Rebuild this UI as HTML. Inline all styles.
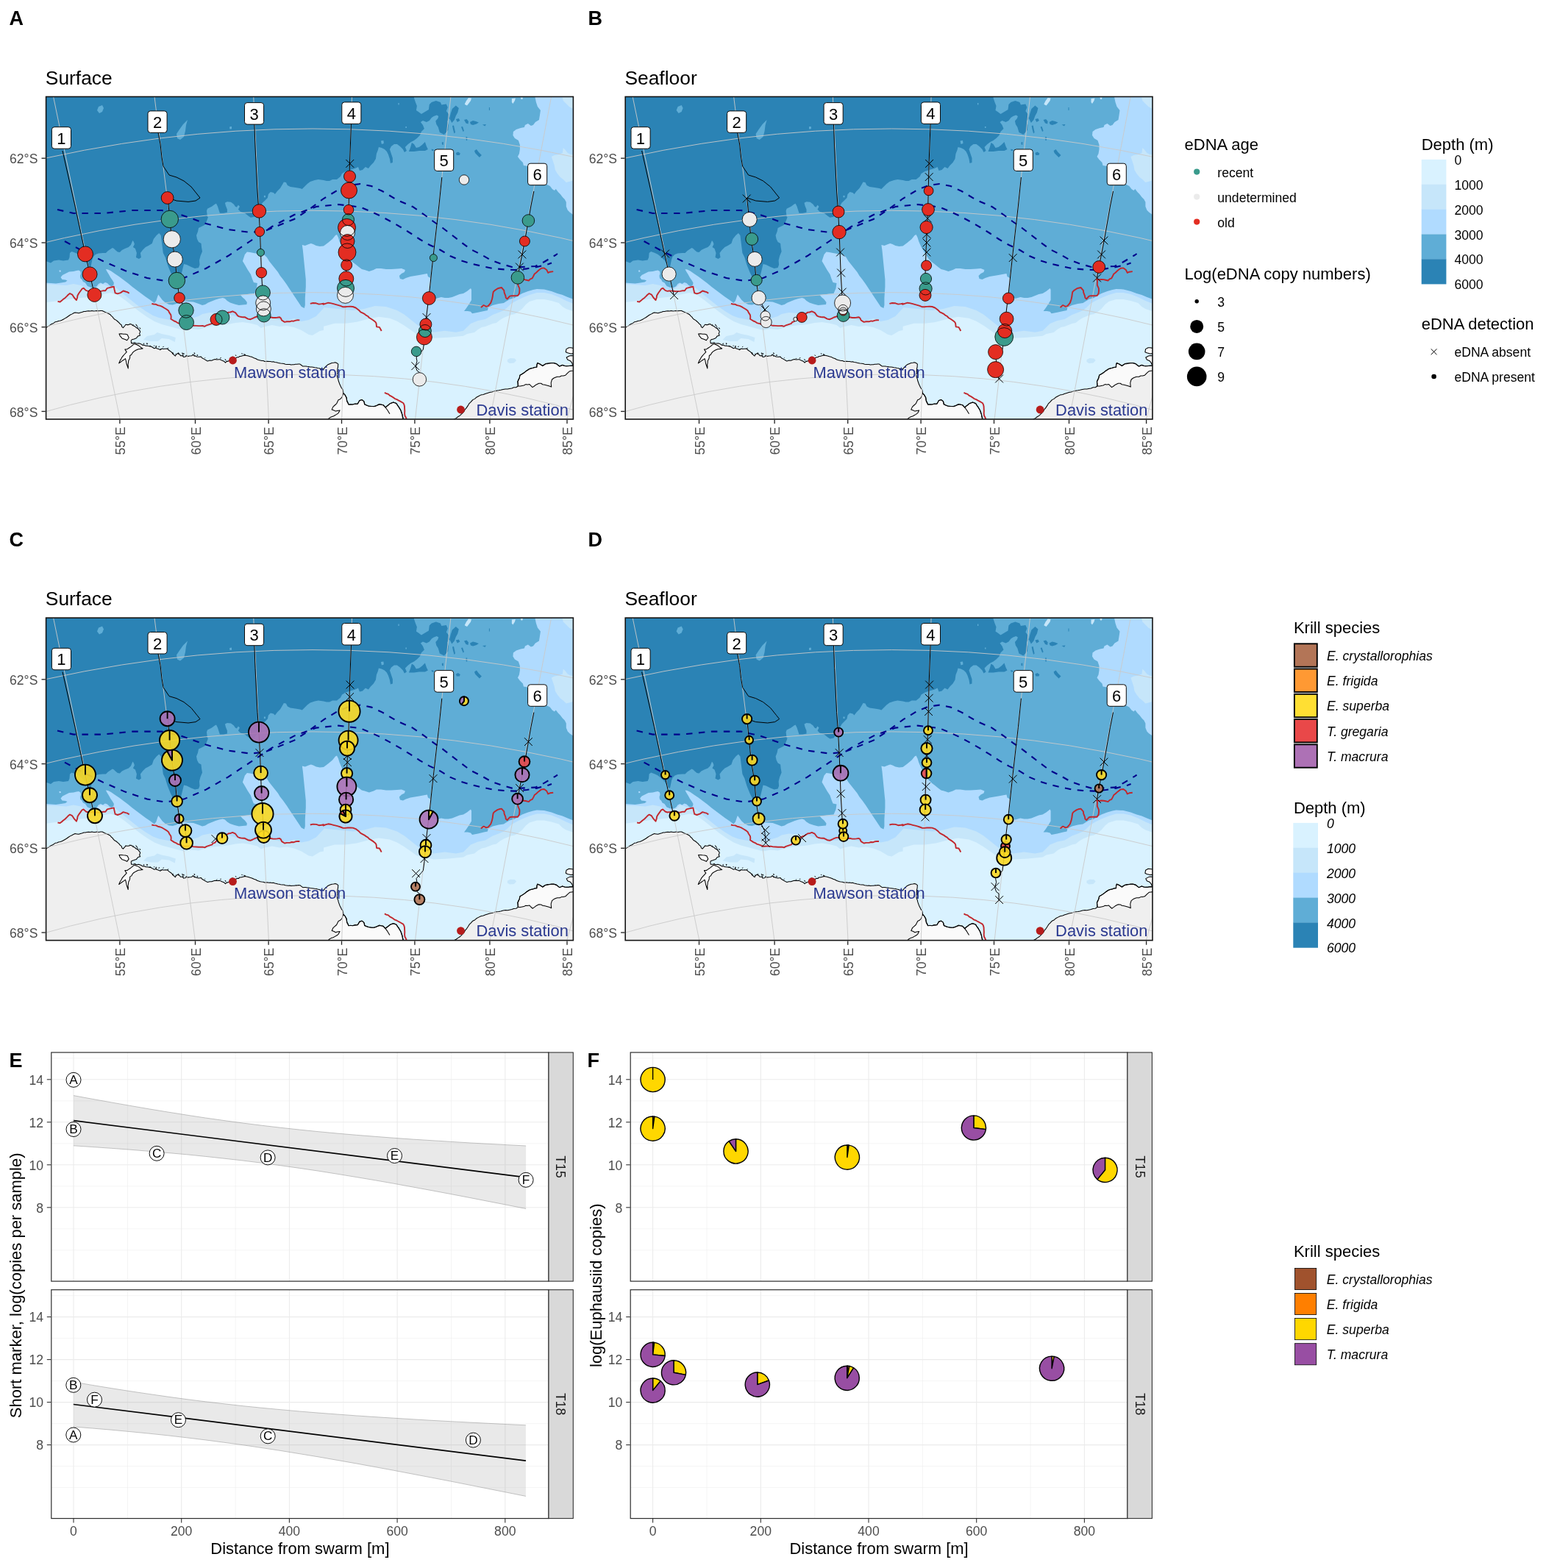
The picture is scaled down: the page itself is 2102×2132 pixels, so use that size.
<!DOCTYPE html>
<html lang="en">
<head>
<meta charset="utf-8">
<title>eDNA krill figure</title>
<style>
html,body{margin:0;padding:0;background:#ffffff;}
body{width:2102px;height:2132px;overflow:hidden;}
svg{display:block;}
text{font-family:"Liberation Sans",Arial,sans-serif;}
.ax{font-size:17.6px;fill:#4d4d4d;}
.lt{font-size:22px;fill:#000;}
.ll{font-size:17.6px;fill:#000;}
.li{font-size:17.6px;fill:#000;font-style:italic;}
.tag{font-size:27px;font-weight:bold;fill:#000;}
.ttl{font-size:26.4px;fill:#000;}
.axt{font-size:22px;fill:#000;}
.st{font-size:17.6px;fill:#1a1a1a;}
</style>
</head>
<body>
<svg width="2102" height="2132" viewBox="0 0 2102 2132">
<defs><clipPath id="mclip"><rect x="62.6" y="131.5" width="716.8" height="438.5"/></clipPath><g id="mapbg"><rect x="62.6" y="131.5" width="716.8" height="438.5" fill="#5fadd6"/><path d="M57.6,354.9 62,354.9 65,355.9 69,357.4 73,354.4 80,353.4 86,354.4 93,353.4 94.5,349.9 95,343.9 97.5,341.9 103,343.9 107,345.9 111.9,349.9 115.9,353.9 118.9,358.9 120.9,362.9 123.4,362.9 124.4,357.9 125.4,352.9 126.9,348.9 129.9,345.9 133.9,344.4 139.9,343.9 143.9,343.9 146.9,340.9 149.9,338.9 152.9,336.9 154.9,337.9 156.9,339.9 159.9,342.4 162.9,342.9 165.9,339.9 169.9,337.9 174.9,335.9 177.9,332.9 180.4,327 181.9,328.9 182.9,331.9 180.9,335.9 183.9,337.9 185.9,343.9 184.9,349.9 188.9,351.9 191.9,349.9 190.9,343.9 193.9,339.9 197.9,335.9 201.9,333.9 206.8,330.9 208.8,325 212.8,320 216.3,317 218.8,320 219.8,327.9 220.8,335.9 221.8,343.9 224.8,349.9 227.8,359.9 229.8,364.9 231.8,369.9 234.8,375.9 239.8,379.9 245.8,375.9 250,358.9 254,359.9 260,362.9 265,364.9 270,363.9 271.5,359.9 271,353.9 272.5,347.9 275,341.9 274,335.9 273.5,330.9 270,328.9 268,325 267,320 269,315 270,310 274,308 278,306 280,303 282,298 283,295 282,294.8 281,286.8 282,283.8 288,280.8 292,277.8 294,276.8 296,280.8 297.9,286.8 298.9,289.8 303.9,289.8 308.9,288.8 308.9,284.8 306.9,279.8 305.9,275.8 308.9,274.3 313.9,274.8 317.9,277.8 319.9,280.8 321.9,281.8 323.9,278.8 325.9,280.8 323.9,284.8 326.9,287.8 332.9,289.8 337.9,293.8 340.9,295.8 345.9,294.8 350.9,286.8 356.9,275.8 359.9,272.9 363.9,268.9 364.9,263.9 367.9,260.9 371.9,261.9 373.9,263.9 376.9,259.9 380.9,255.9 383.9,250.9 385.9,247.4 388.9,247.9 390.9,251.9 394.8,253.9 401.8,254.9 407.8,255.9 410.8,256.9 413.8,253.9 417.8,249.9 421.8,246.9 427.8,244.9 432.8,243.9 440,244.9 444,245.9 448,245.9 452,243.9 458,243.9 463,239.9 465,235.9 470,232.9 476,230.9 483,228.9 487,226.9 488.9,231.9 492.9,230.9 496.9,226.9 500.9,228.9 503.9,224.9 507.9,220.9 510.9,215.9 511.9,208.9 513.9,203.9 514.9,199.9 518.9,200.9 522.9,202.9 525.9,205.9 527.9,209.9 529.9,215.9 530.9,221.9 533.9,220.9 533.9,214.9 531.9,208.9 529.9,202.9 531.9,198.9 535.9,195.9 539.9,195.9 543.9,198.9 547.9,202.9 549.9,206.9 552.9,204.9 550.9,199.9 554.9,195.9 558.9,192.9 562.9,190.9 566.9,187.9 570.9,183.9 572.9,178.9 576.9,175 574.9,170 571.9,166 574.9,164 579.9,166 583.8,164 586.8,160 589.8,158 593.8,156.5 596.3,158 595.3,161 592.3,164.5 593.3,169 595.8,173 597.8,179.9 603.8,182.9 609.3,177 609.8,170 608.3,165 610.8,161 609.8,155 606.8,151 608.8,146 606.8,141.5 600.3,142.5 598.8,139 592.8,137 586.8,139 583.8,142 582.9,149 577.9,152 572.9,155 568.9,152 565.9,150 566.9,144 564.9,139 562.9,133 562.9,129 562.9,126.5 57.6,126.5Z" fill="#2b83b5"/><path d="M614.8,148 619.8,143.5 623.8,147 622.3,153 619.8,157.5 617.8,163 614.3,167 611.3,161 612.8,154Z" fill="#2b83b5"/><path d="M619.8,162 623.8,161 625.3,164 621.8,166Z" fill="#2b83b5"/><path d="M555.9,205.9 557.9,200.9 559.9,193.9 562.9,195.9 565.9,200.9 569.9,199.9 573.9,196.9 577.9,192.9 579.9,198.9 581.9,202.9 577.9,204.9 569.9,204.9 562.9,205.9Z" fill="#2b83b5"/><path d="M619.8,207.9 622.8,206.4 625.8,208.4 624.8,210.9 620.8,210.9Z" fill="#2b83b5"/><path d="M586.8,202.4 589.8,203.4 589.3,205.4 586.8,204.4Z" fill="#2b83b5"/><path d="M600.8,193.4 602.8,192.9 602.8,196.9 601,196.4Z" fill="#2b83b5"/><path d="M631,163 634.5,162 637,165 636.5,168.5 633.5,167.5Z" fill="#2b83b5"/><path d="M639,166 643,164 647,165 650.9,166.5 647.9,168.5 643,170 640,169Z" fill="#2b83b5"/><path d="M655.9,169.5 660.9,169 659.4,171.5Z" fill="#2b83b5"/><path d="M615,171 617,170.5 619,179.9 617.5,181.4 616,176Z" fill="#2b83b5"/><path d="M627,172.5 629,172 631,178 629.5,178.9Z" fill="#2b83b5"/><path d="M645,204.9 647.9,202.9 650.9,206.9 654.9,210.9 651.9,213.9 647.9,209.9 646,207.9Z" fill="#2b83b5"/><path d="M633.5,185.9 635.2,185.9 635.2,190.9 633.8,190.9Z" fill="#2b83b5"/><path d="M664.9,146 665.9,146 665.9,150 664.9,150Z" fill="#2b83b5"/><path d="M132,150 134,145 139,143 141,147 139,152 135,154Z" fill="#5fadd6"/><path d="M240,182 244,176 249,169 255,163 253,170 252,178 250,186 245,190 241,188Z" fill="#5fadd6"/><path d="M312.4,172.4 315,172.4 315,175.2 312.4,175.2Z" fill="#5fadd6"/><path d="M312.4,172.5 314.9,172 315.1,175 312.7,175.5Z" fill="#5fadd6"/><path d="M358.9,265.9 360.9,265.9 360.9,268.4 358.9,268.4Z" fill="#5fadd6"/><path d="M517.9,191.4 521.4,190.9 521.9,194.9 518.9,195.9Z" fill="#5fadd6"/><path d="M541.4,140 542.7,140 542.7,142.5 541.4,142.5Z" fill="#5fadd6"/><path d="M551.4,172 552.9,172 552.9,174 551.4,174Z" fill="#5fadd6"/><path d="M62,384.4 69,384.9 76,385.4 83,384.4 89,383.4 91.5,381.4 89,380.4 84.5,379.9 82.5,376.9 85,373.9 90,371.4 94,369.4 100,368.9 104,367.9 107,367.4 109.4,368.9 109.9,371.9 108.9,374.9 109.4,378.4 111.4,379.9 112.9,382.9 115.9,384.4 118.9,388.9 123.9,390.9 127.9,390.9 131.4,389.4 133.9,385.9 136.9,384.4 139.9,385.9 142.9,383.9 145.9,384.9 148.9,387.9 151.9,389.4 154.4,387.4 154.9,384.4 152.9,380.9 150.4,377.4 147.9,372.9 145.4,368.9 143.9,365.9 146.9,366.4 150.9,368.4 155.9,371.9 161.9,375.9 167.9,380.4 173.9,384.9 179.9,389.9 185.9,394.4 191.9,398.9 197.9,403.4 203.8,407.4 209.8,411.9 212.3,408.9 214.3,402.9 215.3,400.4 217.8,403.9 220.8,407.9 224.8,411.4 229.8,413.9 234.8,414.4 239.8,412.9 245.8,409.9 250,409.4 256,409.9 263,410.4 270,412.9 275,414.9 279,413.9 283,411.4 288,409.4 293,407.4 297.9,405.9 302.9,404.9 305.9,405.9 308.9,408.9 312.9,411.4 318.9,413.4 324.9,414.9 329.9,414.4 335.4,413.9 335.9,410.9 332.9,406.9 329.4,403.9 326.9,400.9 332.9,400.4 339.9,399.4 345.9,398.9 348.9,391.9 349.9,384.9 344.9,383.9 342.9,378.9 340.9,372.9 336.9,366.9 332.9,359.9 329.9,354.9 332.9,345.9 335.9,342.4 339.9,342.9 344.9,343.9 353.9,345.4 359.9,346.9 362.9,349.9 365.9,354.9 369.9,359.9 373.9,364.9 377.9,369.9 380.9,374.9 384.9,379.9 389.9,386.9 393.8,392.9 397.8,398.9 401.8,404.9 405.8,410.9 409.8,416.9 413.8,418.9 414.8,414.9 414.8,404.9 415.8,389.9 415.8,379.9 414.8,369.9 413.8,359.9 412.8,349.9 411.8,339.9 410.8,332.9 414.8,333.9 419.8,331.9 422.8,330.9 425.8,331.9 429.8,333.9 434.8,334.9 440,334.4 446,329.9 452,325 456,320 458,319 460,323 461.5,327.9 465,335.9 470,343.9 475,351.9 479,355.9 483,358.9 487.9,362.9 491.9,365.9 495.9,366.9 501.9,368.9 507.9,366.9 511.9,364.9 517.9,364.9 524.9,365.9 531.9,365.9 539.9,365.4 545.9,364.9 550.9,366.9 549.9,369.9 545.9,371.9 542.9,374.9 543.9,378.9 547.9,379.9 551.9,377.9 557.9,375.9 563.9,374.9 569.9,373.9 577.9,372.4 580.9,371.9 581.9,375.9 585.3,377.9 585.8,384.9 584.8,391.9 584.3,396.9 586.8,402.9 592.8,405.9 599.8,403.9 604.8,404.9 609.8,404.9 614.8,403.9 619.8,401.9 624.8,399.9 630,398.9 635,395.9 640,391.9 641,393.9 641,399.9 641,407.9 638,412.9 634,418.9 631,422.9 636,422.9 640,423.8 642,426.3 649.9,424.8 657.9,422.9 662.9,421.9 663.9,417.9 669.9,414.9 677.9,412.9 684.9,411.9 687.9,409.9 692.9,406.9 699.9,404.9 704.9,401.9 709.9,398.9 717.9,395.9 724.9,393.9 729.9,392.9 739.9,393.4 749.8,395.9 757.8,398.9 764.8,400.9 771.8,403.9 784.8,408.9 784.4,575 57.6,575Z" fill="#b0dbff"/><path d="M726.9,129 728.9,139 730.9,145 734.9,150 733.9,157 732.9,163 727.9,166 724.9,170 721.9,171 717.9,168 713.9,170 712.9,173 707.9,174 701.9,176 697.9,178.9 697.4,183.9 699.9,187.9 704.9,190.9 706.9,196.9 706.9,202.9 705.9,208.9 703.9,212.9 706.9,216.9 710.9,220.9 711.9,224.9 717.9,225.9 729.9,235.9 743.8,250.9 747.8,252.9 750.8,256.9 753.8,258.9 755.8,256.9 758.8,260.9 761.8,263.9 764.8,267.9 767.8,270.9 769.8,274.8 769.8,280.8 771.8,285.8 774.8,288.8 784.8,295.8 784.8,129Z" fill="#b0dbff"/><path d="M62,389.9 66,389.9 70,391.9 71.2,395.9 69.5,398.4 66,396.9 62,394.9Z" fill="#5fadd6"/><path d="M80.5,367.4 82.5,367.4 82.8,369.4 80.8,369.7Z" fill="#b0dbff"/><path d="M55,386 75,387 90,388 100,386 110,388 118,393 126,395 133,390 137,386 141,387 146,389 151,391 156,390 160,393 168,400 178,408 188,416 198,423 208,429 216,432 226,434 238,436 250,434.9 260,432.9 270,430 275,427 285,425 309.9,427 319.9,430 329.9,432.9 339.9,434.9 349.9,433.9 359.9,432.9 369.9,432.9 379.9,434.9 389.9,435.9 399.8,432.9 409.8,436.9 419.8,434.9 429.8,430 440,419 440,417.9 460,419.9 480,421.9 494.9,419.9 509.9,415.9 524.9,416.9 539.9,421.9 549.9,427.8 559.9,435.8 569.9,443.8 589.8,451.8 604.8,449.8 619.8,451.8 630,449.8 640,439.9 649.9,435.9 659.9,433.9 664.9,431 669.9,428 677.9,425 684.9,422 689.9,418 694.9,413 701.9,409 709.9,405 719.9,401 729.9,398 739.9,398 749.8,400 759.8,404 769.8,409 784.8,415 784.4,575 57.6,575Z" fill="#c6e6fa"/><path d="M763.8,129 765.8,137 769.8,141 773.8,145 784.8,151 784.8,129Z" fill="#c6e6fa"/><path d="M749.8,212.9 753.8,210.9 759.8,209.9 764.8,207.9 765.8,200.9 768.8,203.9 771.8,207.9 775.8,209.9 784.8,210.9 784.8,243.9 773.8,246.9 769.8,247.9 765.8,243.9 761.8,240.9 757.8,235.9 754.8,230.9 753.8,224.9 751.8,218.9Z" fill="#c6e6fa"/><path d="M632,141 634,137 637,133 641,133.5 640,137 637,141 635,143.5 632,142Z" fill="#c6e6fa"/><path d="M695.9,134 700.9,133.5 699.9,137 697.4,141 695.9,139Z" fill="#c6e6fa"/><path d="M707.9,132.5 710.9,132.5 710.4,135 708.4,134.8Z" fill="#c6e6fa"/><path d="M55,412 80,409 100,406 120,404 140,400 150,398 160,401 170,408 180,416 190,424 200,431 210,437 220,441 235,445 250,448.9 260,446.9 270,447.9 280,444.9 290,442.9 299.9,441.9 309.9,440.9 319.9,438.9 329.9,437.9 339.9,439.4 349.9,441.9 354.9,445.9 359.9,443.9 369.9,441.9 379.9,443.9 389.9,442.9 399.8,444.9 409.8,448.9 419.8,454.9 424.8,455.9 429.8,452.9 434.8,449.9 440,448.9 440,443.8 455,439.8 470,439.8 485,437.8 499.9,433.8 514.9,430.8 529.9,432.8 539.9,436.8 549.9,442.8 559.9,449.8 566.9,454.8 589.8,459.8 609.8,458.8 630,456.8 635,453.9 640,452.9 645,451.9 649.9,447.9 654.9,444.9 659.9,443.9 664.9,441.9 669.9,439.9 674.9,438.9 679.9,434.9 684.9,432 689.9,430 694.9,428 699.9,427 704.9,424 709.9,420 714.9,414 719.9,410 729.9,407 739.9,407 749.8,409 759.8,412 764.8,417 769.8,420 784.8,425 784.4,575 57.6,575Z" fill="#d9f2ff"/><path d="M194.9,461.9 199.9,456.9 209.8,454.9 213.8,451.9 219.8,453.9 229.8,455.9 238.8,458.9 237.8,464.9 229.8,460.9 219.8,459.9 214.8,463.9 204.8,463.9Z" fill="#c6e6fa"/><path d="M689.9,488.9 693.9,487.1 699.9,487.4 702.1,489.9 698.9,493.4 692.9,493.9 689.9,491.9Z" fill="#c6e6fa"/><path d="M56,449.9 57.6,448.8 59.4,447.7 61.3,446.3 62.7,445.6 64.5,444.1 66.6,443.1 68.2,441.9 69.8,440.8 71.6,440.1 73.2,439.1 75.1,437.7 77.5,437.3 79.5,436.4 82.2,435.9 84.1,435.2 86.1,434.2 87.9,433.1 90.4,431.7 93.2,429.7 95.3,428.3 98.2,426.9 100,425.8 102,424.9 104.4,425.3 107,425.7 109.5,424.9 112.1,424.2 114,423.4 116.1,423.5 118.2,423 120.4,422.7 122.8,422.9 124.8,422.5 127.5,423 129.4,422.8 131.9,422.4 134.1,422.8 136.8,422.4 139,422.5 141,423.4 143.1,424.5 144.9,425.2 147.3,426.2 150,427.7 151.2,429.4 153,430.8 154.2,432.6 155.8,434.2 158.1,435.4 159.9,437 161.7,438.6 163,440.2 165.2,442 165.8,444.3 167.4,445.6 169.7,443 171,441.3 172.7,441.6 174.5,441.6 178.1,440.6 180.6,442.6 183.2,443.7 185.7,445.9 187,446.1 189.7,449.3 190.4,449.9 190.5,451.6 189.6,453.6 190.6,456.1 188.5,456.7 187.4,457.1 185.5,459.8 183.5,460.4 182.4,460.9 179.3,461.8 178.2,463.2 178.6,466.6 181.5,466.6 183.5,465.8 184.6,467 187.6,467 188.4,466.7 191.4,467.6 194.4,469.5 195.3,469 198.4,470.2 200.4,470.1 201.2,470.5 204.9,471 206.6,471.8 209.7,473.7 212.6,472.8 212.9,473.7 216.5,474.8 217.7,475.7 220.6,473.9 222.3,474.5 224.1,474.3 225.4,474.3 227.3,474.1 230,476.5 232.4,478.1 235.5,481.2 237.1,483.1 238.5,484 238.9,482.8 241.2,480.5 244.1,481.9 245.6,483.7 248.1,483.6 249.6,485.5 252,485.1 253.7,483.7 256.1,484.5 257.4,484.1 260.7,483.8 262.6,482 264.2,484.2 265.2,483.8 267.6,484.9 270.3,485.3 273.5,485 274.7,486.7 277.3,488.1 281.3,490.5 282.2,490.9 285.1,490.1 287.7,490.2 290.6,489.1 292.4,488.6 294.8,489 298.3,488.7 299.2,488.8 301.7,490.1 304.5,491.2 306.5,493.1 307.8,491.7 309.9,491.3 311.8,490.2 313.9,488.4 316,488.2 317.2,487.1 319.8,487.2 322.7,485.7 324.6,485.8 325.5,484.5 327.2,484.5 330.5,483.6 333.1,483 335.5,483.4 337.7,483.9 340.1,484.7 343.1,485.6 345.2,486.7 348.1,487.7 349.6,488.7 351.7,489.4 354,490.1 356.1,490.4 358,490.6 360,491.4 363,491.2 366,491.6 367.6,491.5 369.9,491.9 371.7,491.7 373.7,492.4 376,492.8 377.8,493.3 379.8,493.7 381.6,494.1 384.1,494.3 386,494.5 388,495.2 389.9,495.4 391.8,495.6 394.1,495.5 395.6,496 398.1,495.7 399.8,495.7 401.7,495.3 403.7,495.3 405.7,494.9 407.9,495.1 409.7,496.5 411.8,498.1 413.9,497.9 415.7,498 417.8,498.3 419.6,498.5 421.7,498.9 423.6,499.1 425.8,499.3 427.8,499.7 430,499.9 431.8,500.5 434,500.8 435.9,501.6 437.9,501.5 439.9,502 442.1,499.1 444.2,497.2 445.8,495.8 448.3,494.7 451.2,493.6 453.4,493.3 455.9,492.8 458.1,493.7 459.8,495.1 459.6,496.8 459.5,499 459,500.8 458.9,502.9 458.7,504.9 459,506.8 458.6,508.7 458.4,511 458.8,513.4 459.7,515.3 460.2,517.8 461.1,520.3 461.9,522.6 463.1,525 464.3,527.5 466.2,529.9 466.5,532.1 467,534.8 469.1,536.9 470,538.7 471,540.9 471.3,543.5 472.1,545.6 473.2,547.6 473.9,549.9 477,549.9 480,549.8 481.9,549.3 483.7,549.3 486.1,548.9 487.6,546.8 488.8,544.8 492.1,543.6 494.9,545.7 495.6,547.8 495.9,549.8 498.5,551 500.9,552 503.2,552.2 505.7,552.6 508.6,552.4 510.8,551.7 513.4,551 516.1,550 518.5,550.1 520.9,550.7 522.4,552.4 523.8,553.7 527.1,551.6 528.6,550.5 530.1,548.8 532.4,547.9 535,547.1 537,547.7 539.1,548.8 540.4,550.9 541.6,553 543.5,555.3 544.9,557.8 545.4,559.8 546,561.8 547,563.8 547.4,566.3 548.1,568 548.5,570.5 548.6,572.5 549.2,574.6 57.6,575Z" fill="#efefef"/><path d="M614,574.8 615.6,572.5 617.2,570.1 620.1,568.6 622.6,566.8 625.6,564.9 627.9,562.5 629.9,560.6 631.3,558.9 632.3,556.6 633.8,555.1 635.5,552.6 636.8,550.6 638,548.6 640.1,546.6 642.8,543.6 645.8,542.1 647.8,540.2 651,538.5 653.7,537.1 657.1,536.4 660.2,535.2 662.8,534.4 665.7,533.5 668.8,532.9 671.6,532 674.8,531.2 678.1,530.8 680.8,530.3 684.1,529.5 687.2,529 690.1,529.1 692.6,528.6 695.8,527.9 698.6,526.8 701.7,526.7 704.2,525 704.4,522.2 703.8,518.8 705.2,516.6 706.1,514 707.1,510.1 709.6,508.7 712.6,506.8 716,504.2 719.8,501.7 722.4,500.7 724.7,500.2 727.1,499.4 730,499.2 729.9,495.8 730.7,493.4 733.8,494.7 737.9,497.6 741.8,494.8 744,494.7 746.5,493.9 750.1,493.4 753,493.7 756.9,495.1 758.6,496.3 760.6,498.1 764.7,496.4 767.7,497.4 770.2,497.8 772.3,497.8 774.8,497.2 777.2,497 779.7,497.5 782.6,497.1 784.8,496.8 784.4,575Z" fill="#efefef"/><path d="M467,534.8 468.9,536.9 471.3,540.8 471.5,543.4 471.7,545.8 474.1,550.1 476.6,549.7 479.6,550.1 483.1,549 486.3,549.2 487.6,546.9 488.7,544.4 492,543.5 494.7,545.6 495.6,549.8 498.4,551.1 501,551.9 503.4,552.5 505.9,552.6 508.8,552.7 511.2,552 513.3,550.6 515.8,549.5 518.6,550.2 521.2,550.7 524.3,554.1 526.5,551.6 530.2,548.8 532.8,547.7 534.6,546.9 539.1,548.6 540.1,550.7 542.3,553 543.1,555.1 544.6,557.5 546.1,560.6 546.9,563.8 547.3,566.7 547.8,569.4 548.5,572 549.2,574.6 547.3,575 544.3,575.1 541.8,574.7 539.9,574.9 536.8,575.2 534.5,574.6 532.4,574.7 529.6,574.5 527,574.9 524.7,574.9 522.3,574.8 520.3,574.8 517.6,575.1 514.8,574.5 512.9,575.1 510,574.6 507.9,575.2 505,575.2 503.1,574.9 500.3,574.5 497.5,575.2 495.3,575 492.8,575.1 490.6,574.6 487.9,575 485.3,574.6 483.3,575.1 480.9,574.6 478.6,574.6 475.5,574.6 473.4,574.4 470.7,574.7 468.6,574.5 465.9,575.1 464,574.9 461.3,574.9 458.4,574.4 455.9,575.1 454,575.2 451,574.9 448.9,575 446.3,575.2 443.7,574.8 445.2,572.6 446.2,570 448.2,568.1 450.2,567 453,566.1 454.9,565 457.8,563.4 460.1,561.7 462,557.9 458.6,558.4 456.4,559.1 453.7,557.7 451.2,556.9 452.9,553.1 455.2,551 457.6,548.9 459,546.1 460.1,543.8 462.6,542.7 464.8,540.4 465.8,538 466.7,534.6Z" fill="#fafafa" stroke="#000" stroke-width="1.05" stroke-linejoin="round"/><path d="M704.4,524.9 704.1,522 704,518.6 704.7,516.3 706.2,514.1 707,510 709.9,508.5 712.6,506.8 715.6,504.2 719.5,501.6 722,501 724.7,500.3 727.6,499.2 729.5,499.2 730.1,495.8 730.8,493.7 733.5,494.8 737.6,497.2 741.9,494.6 744.5,494 746.6,494.1 749.8,493.6 752.9,493.4 756.7,494.5 759,496.8 761.2,498 764.7,496.3 767.5,497.3 769.5,497.7 772.2,497.6 775.1,497.4 776.9,497.5 779.8,497.1 782.1,496.9 784.7,497.1 784.5,499.9 784.5,503 781.9,503.2 779.7,504 777,504.3 774.6,504.7 771.8,507.2 768.8,510.2 765.9,510.9 763.4,511 761,512.2 757.9,512.2 756.1,512.7 753.1,514 750.5,516 749.2,520.3 749.3,522.5 749.7,526.1 747.1,525 743.6,523.9 740.8,523.2 737.7,522.7 735.7,521.3 732.7,521.2 728.7,523.2 726.4,525 724,526.6 721.7,524.4 720,522.5 717.1,522.9 714.8,522.6 712.3,524 709.9,524.5 707.5,525 704.6,524.8Z" fill="#fafafa" stroke="#000" stroke-width="1.05" stroke-linejoin="round"/><path d="M784.8,473.4 781.9,473.4 779.5,473.4 776.3,472.8 773.5,472.7 770,474.6 769.3,478.7 771.7,479.8 776.1,481 778.4,480.7 781.5,481.2 785.1,481.1 785.1,478.6 785.2,476.1 784.6,473.7Z" fill="#fafafa" stroke="#000" stroke-width="1.05" stroke-linejoin="round"/><path d="M784.8,482.9 781.7,483.3 779.4,483.7 776.4,483.5 774,484 770.2,486 771.7,489.1 775.5,490.7 777.6,493.3 778.6,496.1 781.9,496.1 784.8,497 784.5,494.2 784.5,491.2 784.5,488.3 785.2,485.6 785.2,482.8Z" fill="#fafafa" stroke="#000" stroke-width="1.05" stroke-linejoin="round"/><path d="M161.9,453.9 165,453.8 167.6,454.2 170.5,454.3 173.2,455.1 175.2,459.3 172.7,462.8 170.7,461.7 168,460.7 166.2,460.2 163.1,456.7 162.2,453.9Z" fill="#fafafa" stroke="#000" stroke-width="1.05" stroke-linejoin="round"/><path d="M169.9,474.9 172.8,474.9 174.8,473.5 176.8,472.2 178.7,470.8 180.5,469.2 182.7,467.6 186.1,468.8 189.1,470.3 191.2,472.2 194.1,474 190.5,474.4 188,474.7 184.6,476.3 181.7,478.1 180.1,479.8 178.7,482.3 176.7,483.5 176.6,486.5 175.8,488.6 174.7,490.6 174.5,493.4 174,496 174.3,498 174.2,500.9 173.2,497.9 172.1,494.8 171.5,491.4 170.5,487.6 168.2,489.3 165.8,490.9 164,492.3 161.7,493.9 163.3,490.1 164.7,488.1 166,485.6 167.6,483.6 169.5,481.5 172.2,478.6 170,475.3Z" fill="#fafafa" stroke="#000" stroke-width="1.05" stroke-linejoin="round"/><path d="M56,449.9 57.6,448.8 59.4,447.7 61.3,446.3 62.7,445.6 64.5,444.1 66.6,443.1 68.2,441.9 69.8,440.8 71.6,440.1 73.2,439.1 75.1,437.7 77.5,437.3 79.5,436.4 82.2,435.9 84.1,435.2 86.1,434.2 87.9,433.1 90.4,431.7 93.2,429.7 95.3,428.3 98.2,426.9 100,425.8 102,424.9 104.4,425.3 107,425.7 109.5,424.9 112.1,424.2 114,423.4 116.1,423.5 118.2,423 120.4,422.7 122.8,422.9 124.8,422.5 127.5,423 129.4,422.8 131.9,422.4 134.1,422.8 136.8,422.4 139,422.5 141,423.4 143.1,424.5 144.9,425.2 147.3,426.2 150,427.7 151.2,429.4 153,430.8 154.2,432.6 155.8,434.2 158.1,435.4 159.9,437 161.7,438.6 163,440.2 165.2,442 165.8,444.3 167.4,445.6 169.7,443 171,441.3 172.7,441.6 174.5,441.6 178.1,440.6 180.6,442.6 183.2,443.7 185.7,445.9 187,446.1 189.7,449.3 190.4,449.9 190.5,451.6 189.6,453.6 190.6,456.1 188.5,456.7 187.4,457.1 185.5,459.8 183.5,460.4 182.4,460.9 179.3,461.8 178.2,463.2 178.6,466.6 181.5,466.6 183.5,465.8 184.6,467 187.6,467 188.4,466.7 191.4,467.6 194.4,469.5 195.3,469 198.4,470.2 200.4,470.1 201.2,470.5 204.9,471 206.6,471.8 209.7,473.7 212.6,472.8 212.9,473.7 216.5,474.8 217.7,475.7 220.6,473.9 222.3,474.5 224.1,474.3 225.4,474.3 227.3,474.1 230,476.5 232.4,478.1 235.5,481.2 237.1,483.1 238.5,484 238.9,482.8 241.2,480.5 244.1,481.9 245.6,483.7 248.1,483.6 249.6,485.5 252,485.1 253.7,483.7 256.1,484.5 257.4,484.1 260.7,483.8 262.6,482 264.2,484.2 265.2,483.8 267.6,484.9 270.3,485.3 273.5,485 274.7,486.7 277.3,488.1 281.3,490.5 282.2,490.9 285.1,490.1 287.7,490.2 290.6,489.1 292.4,488.6 294.8,489 298.3,488.7 299.2,488.8 301.7,490.1 304.5,491.2 306.5,493.1 307.8,491.7 309.9,491.3 311.8,490.2 313.9,488.4 316,488.2 317.2,487.1 319.8,487.2 322.7,485.7 324.6,485.8 325.5,484.5 327.2,484.5 330.5,483.6 333.1,483 335.5,483.4 337.7,483.9 340.1,484.7 343.1,485.6 345.2,486.7 348.1,487.7 349.6,488.7 351.7,489.4 354,490.1 356.1,490.4 358,490.6 360,491.4 363,491.2 366,491.6 367.6,491.5 369.9,491.9 371.7,491.7 373.7,492.4 376,492.8 377.8,493.3 379.8,493.7 381.6,494.1 384.1,494.3 386,494.5 388,495.2 389.9,495.4 391.8,495.6 394.1,495.5 395.6,496 398.1,495.7 399.8,495.7 401.7,495.3 403.7,495.3 405.7,494.9 407.9,495.1 409.7,496.5 411.8,498.1 413.9,497.9 415.7,498 417.8,498.3 419.6,498.5 421.7,498.9 423.6,499.1 425.8,499.3 427.8,499.7 430,499.9 431.8,500.5 434,500.8 435.9,501.6 437.9,501.5 439.9,502 442.1,499.1 444.2,497.2 445.8,495.8 448.3,494.7 451.2,493.6 453.4,493.3 455.9,492.8 458.1,493.7 459.8,495.1 459.6,496.8 459.5,499 459,500.8 458.9,502.9 458.7,504.9 459,506.8 458.6,508.7 458.4,511 458.8,513.4 459.7,515.3 460.2,517.8 461.1,520.3 461.9,522.6 463.1,525 464.3,527.5 466.2,529.9 466.5,532.1 467,534.8 469.1,536.9 470,538.7 471,540.9 471.3,543.5 472.1,545.6 473.2,547.6 473.9,549.9 477,549.9 480,549.8 481.9,549.3 483.7,549.3 486.1,548.9 487.6,546.8 488.8,544.8 492.1,543.6 494.9,545.7 495.6,547.8 495.9,549.8 498.5,551 500.9,552 503.2,552.2 505.7,552.6 508.6,552.4 510.8,551.7 513.4,551 516.1,550 518.5,550.1 520.9,550.7 522.4,552.4 523.8,553.7 527.1,551.6 528.6,550.5 530.1,548.8 532.4,547.9 535,547.1 537,547.7 539.1,548.8 540.4,550.9 541.6,553 543.5,555.3 544.9,557.8 545.4,559.8 546,561.8 547,563.8 547.4,566.3 548.1,568 548.5,570.5 548.6,572.5 549.2,574.6" fill="none" stroke="#000" stroke-width="1.05" stroke-linejoin="round"/><path d="M614,574.8 615.6,572.5 617.2,570.1 620.1,568.6 622.6,566.8 625.6,564.9 627.9,562.5 629.9,560.6 631.3,558.9 632.3,556.6 633.8,555.1 635.5,552.6 636.8,550.6 638,548.6 640.1,546.6 642.8,543.6 645.8,542.1 647.8,540.2 651,538.5 653.7,537.1 657.1,536.4 660.2,535.2 662.8,534.4 665.7,533.5 668.8,532.9 671.6,532 674.8,531.2 678.1,530.8 680.8,530.3 684.1,529.5 687.2,529 690.1,529.1 692.6,528.6 695.8,527.9 698.6,526.8 701.7,526.7 704.2,525 704.4,522.2 703.8,518.8 705.2,516.6 706.1,514 707.1,510.1 709.6,508.7 712.6,506.8 716,504.2 719.8,501.7 722.4,500.7 724.7,500.2 727.1,499.4 730,499.2 729.9,495.8 730.7,493.4 733.8,494.7 737.9,497.6 741.8,494.8 744,494.7 746.5,493.9 750.1,493.4 753,493.7 756.9,495.1 758.6,496.3 760.6,498.1 764.7,496.4 767.7,497.4 770.2,497.8 772.3,497.8 774.8,497.2 777.2,497 779.7,497.5 782.6,497.1 784.8,496.8" fill="none" stroke="#000" stroke-width="1.05" stroke-linejoin="round"/><path d="M227.8,473.8 l1,-0.9 l-0.3,1 z M234.5,480 l0.9,-0.8 l-0.4,0.9 z M187.2,445.7 l0.8,0.5 l-0.7,0.8 z M211.7,470.4 l1.3,0.2 l-0.6,1.3 z M332.2,482.4 l1.2,-0.5 l-1,1.2 z M194.8,467.4 l1.2,-0.7 l-0.3,1.2 z M278.2,487 l0.9,-0.8 l-0.9,0.9 z M209,470.1 l0.8,-0.3 l-0.2,0.8 z M248.5,482.5 l1.1,0.5 l-0.8,1.1 z M267.9,482.3 l1.2,0.6 l-0.8,1.2 z M332.8,481.9 l0.8,0.4 l-0.7,0.8 z M254.2,483.5 l1,0.5 l-0.3,1 z M316.1,486.1 l1.1,0.2 l-0.3,1.1 z M249,480.6 l1.3,-0.1 l-0.2,1.3 z M185.7,442.3 l1,1 l0.1,1 z M221.5,471.9 l1,-1 l-0.4,1 z M202.9,470.1 l0.5,0.3 l-0.4,0.5 z M215.6,471.7 l1.2,-1 l-0.5,1.2 z M263.9,479.5 l1.2,0.8 l-0.8,1.2 z M242.4,479.3 l1.2,1.1 l-1,1.2 z M204.2,470 l0.7,-0 l-0.1,0.7 z M218,474.3 l0.8,-0.2 l-0.2,0.8 z M328.5,480.5 l0.9,0.2 l-0.1,0.9 z M184.6,440.9 l1.1,0.8 l0,1.1 z M238.8,481.1 l0.6,0.2 l-0.5,0.6 z M186.8,444.9 l0.6,-0.2 l-0.6,0.6 z M176,440.3 l0.6,-0.2 l-0.6,0.6 z M315.9,485 l0.6,-0.3 l-0.3,0.6 z M234.3,479.5 l1.2,1.2 l-0.5,1.2 z M253.4,483.5 l0.6,-0.2 l-0.3,0.6 z M308.6,490.4 l0.5,0.5 l-0.1,0.5 z M199.5,467.6 l0.5,0 l0.3,0.5 z M314.1,485.5 l0.7,-0.2 l-0.5,0.7 z M299.5,486.7 l1.1,-0.4 l-0.8,1.1 z M305.8,488.4 l1.2,0.7 l0,1.2 z M294.4,487.5 l0.9,-0.3 l-0.9,0.9 z M180.5,441.1 l0.7,0.3 l0.3,0.7 z M247.6,479.5 l1.3,1.2 l-0.7,1.3 z M211.3,472.1 l0.7,-0.4 l-0.1,0.7 z M320,482.7 l0.9,0.3 l0.1,0.9 z M189.6,445.5 l1.2,0.7 l-0.1,1.2 z M252.5,483.3 l1.1,-0.4 l0,1.1 z M331.5,481.1 l0.8,0.7 l-0,0.8 z M203.2,470.2 l0.6,0.5 l0.1,0.6 z M199.4,466.5 l1.3,0.4 l-0.7,1.3 z M263.8,482.5 l0.5,0.5 l0,0.5 z" fill="#000" stroke="#000" stroke-width="0.5"/><path d="M523.9,553.8 526.9,557.8 529.9,562.8" fill="none" stroke="#000" stroke-width="1.05" stroke-linejoin="round"/><path d="M-239.8,73.4 L-4.1,698.5 M-99.7,26.8 L86.3,668.4 M43.6,-8.7 L178.8,645.5 M189.3,-32.9 L272.8,629.9 M336.4,-45.6 L367.8,621.7 M484.1,-46.8 L463.1,620.9 M631.4,-36.4 L558.2,627.7 M777.4,-14.5 L652.5,641.8 M921.2,18.8 L745.3,663.3 M1062.1,63.2 L836.2,692 M-226.4,187.6 -174.4,168 -121.8,150.1 -68.7,133.7 -15.1,119.1 39,106.2 93.4,94.9 148.2,85.4 203.2,77.6 258.5,71.5 313.9,67.1 369.4,64.5 425,63.6 480.6,64.5 536.1,67.1 591.5,71.5 646.8,77.6 701.8,85.4 756.6,94.9 811,106.2 865.1,119.1 918.7,133.7 971.8,150.1 1024.4,168 1076.4,187.6 M-185.5,291.2 -136.8,272.8 -87.5,256 -37.7,240.7 12.6,227 63.2,214.8 114.3,204.3 165.6,195.4 217.2,188 268.9,182.3 320.9,178.2 372.9,175.8 425,175 477.1,175.8 529.1,178.2 581.1,182.3 632.8,188 684.4,195.4 735.7,204.3 786.8,214.8 837.4,227 887.7,240.7 937.5,256 986.8,272.8 1035.5,291.2 M-144.6,394.7 -99.2,377.6 -53.2,361.9 -6.7,347.6 40.2,334.8 87.5,323.5 135.1,313.7 183,305.3 231.1,298.5 279.4,293.2 327.8,289.4 376.4,287.1 425,286.3 473.6,287.1 522.2,289.4 570.6,293.2 618.9,298.5 667,305.3 714.9,313.7 762.5,323.5 809.8,334.8 856.7,347.6 903.2,361.9 949.2,377.6 994.6,394.7 M-103.7,498.3 -61.5,482.4 -18.8,467.8 24.3,454.6 67.8,442.7 111.7,432.2 155.9,423 200.3,415.3 245,409 289.8,404 334.8,400.5 379.9,398.4 425,397.7 470.1,398.4 515.2,400.5 560.2,404 605,409 649.7,415.3 694.1,423 738.3,432.2 782.2,442.7 825.7,454.6 868.8,467.8 911.5,482.4 953.7,498.3 M-62.8,601.8 -23.9,587.2 15.5,573.7 55.3,561.5 95.5,550.5 135.9,540.8 176.7,532.4 217.7,525.3 258.9,519.4 300.3,514.9 341.8,511.6 383.4,509.7 425,509 466.6,509.7 508.2,511.6 549.7,514.9 591.1,519.4 632.3,525.3 673.3,532.4 714.1,540.8 754.5,550.5 794.7,561.5 834.5,573.7 873.9,587.2 912.8,601.8 M-21.9,705.4 13.8,692 49.8,679.6 86.3,668.4 123.1,658.4 160.2,649.5 197.5,641.8 235.1,635.3 272.8,629.9 310.8,625.7 348.8,622.7 386.9,620.9 425,620.3 463.1,620.9 501.2,622.7 539.2,625.7 577.2,629.9 614.9,635.3 652.5,641.8 689.8,649.5 726.9,658.4 763.7,668.4 800.2,679.6 836.2,692 871.9,705.4" fill="none" stroke="#c9c9c9" stroke-width="0.9"/><path d="M78,285 100,290 140,290 180,286 220,286 246,292 280,304 310,312 340,316 360,314 380,306 400,298 420,285 440,270 460,258 475,252 490,250 505,253 520,260 540,272 561,281 577,292 589,301 602,310 615,320 628,330 640,339 654,346 668,354 682,359 696,363 710,363 728,362 740,356 755,347 758,345" fill="none" stroke="#00008b" stroke-width="2.1" stroke-dasharray="8.5 8.5"/><path d="M88,328 110,340 140,355 170,368 200,378 225,382 250,378 280,365 310,348 340,328 370,308 400,292 430,281 460,278 485,281 492,282.5 504,287.5 518,294 532,301.5 545,309 558,317 571,325.5 584,333 599,340 612,348 626,354 640,358.4 656,362 670,365 686,366.4 700,367 716,365.4 730,363 746,359 750,357.5" fill="none" stroke="#00008b" stroke-width="2.1" stroke-dasharray="8.5 8.5"/><path d="M78.5,409.9 81.7,410.5 84.1,408.6 85.7,407.1 88.7,404.9 91,402.6 92.5,401 95,399 98.2,400.6 100.7,404.5 103.9,408.1 105,405 105.5,401.7 107.4,398.5 109.4,395.8 111.6,392.7 113.6,391.8 116.9,394.9 119.8,395.9 122.2,395.5 125.4,395.6 127.9,395.6 130.6,396.2 133,396.1 135.4,396.1 137.6,395.9 140.7,395.1 143.3,395.2 145.8,391.8 149.9,390.8 154.8,389.8 155.5,393.5 156.6,398.3 159.9,399.4 163.9,398.1 167.6,395.5 170.9,396.5 173.1,397.1 175.7,398.8" fill="none" stroke="#c1272d" stroke-width="1.9" stroke-linejoin="round"/><path d="M206.3,412.9 208.8,413.5 212,413.8 214.6,415.1 218.1,415.9 220.8,417.1 223.4,418.7 226.4,420.5 229.1,422.6 230.1,424.9 232.3,428.1 232.7,430.9 232.4,433.7 236.8,436.5 239.7,437.7 241.5,439.1 245.5,440.2 250,442.2 252.5,442.2 254.9,441.8 258.1,442.1 260.6,442.1 263.4,442.8 266.7,442.9 270.1,443.1 272.3,443.1 275.6,443 278.4,443.8 280.9,442.3 283.9,441.3 288.4,439.8 289.5,438 292.2,437.2 294,435.1 296,433.8 297.7,432 300.6,430.7 302.9,428.9 305.6,428.1 308.2,426.4 310.8,424.6 313,424.5 316.2,423.3 320.1,425.1 323.3,429.4 325.3,430.4 328.3,431 330.8,431.2 332.8,431.2 337.2,433.6 340.5,434.2 343.6,432.9 346.2,431.5 349.7,430.3 352.4,430.3 354.6,430.6 358,431.3 360.4,431 362.5,431.6 365.3,431.5 367.5,431.2 371.2,432 374.2,432 376.8,431.8 380.2,431.3 381.9,432.7 383.1,435.5 387,437.9 389.9,437.3 394,437.3 396.6,436.4 399.1,436.7 402.2,435.6 404.5,435.3 407.4,435.4" fill="none" stroke="#c1272d" stroke-width="1.9" stroke-linejoin="round"/><path d="M421.8,412.9 425.5,412 429.9,412.3 433.6,413.6 437.2,413.1 440,412.6 439.6,413.9 443.1,412.6 446.3,411.7 449.2,412.1 453.4,413.2 456.8,414.1 459.6,414.8 463,415.9 466.4,417.3 469.2,417.3 472.6,416.9 476.4,416.8 479.8,417 483.7,418.5 486.3,420.4 488.2,422 490.4,424.3 493.2,425.7 496,427.2 497.6,428.6 500.2,430 502.3,432.3 504.9,433.8 507.9,435.8 510.4,437.8 511.5,439.6 512.1,444.4 515.9,444.9 517.5,447.7 518.7,450" fill="none" stroke="#c1272d" stroke-width="1.9" stroke-linejoin="round"/><path d="M522.9,533.8 525.1,535 528,535.8 530,537.8 532.8,539.2 534.9,540.6 536.8,542.1 539.6,543.1 542.2,544.6 544.6,545.9 548.3,548 549.5,550.4 550,552.7 550.1,555.5 550.3,558.7 550.1,562.1 550.5,565.2 551.8,567.4 552.7,569.8 553.1,571.9 554.2,574.6" fill="none" stroke="#c1272d" stroke-width="1.9" stroke-linejoin="round"/><path d="M653.9,417.9 657.6,415 661.1,416.8 663.7,416.1 667.2,411.9 668.2,409.1 669,406.8 669.8,403 670.2,399.6 670.7,397 672.4,395.1 676.3,392.5 678.5,391.7 681.9,391 685.3,394.8 685.6,397.7 686.6,400.3 687.4,402.4 687.8,404.9 689.6,406.5 693.2,402.6 695.7,402.1 698.3,402.2 701.1,402.1 704,402.1 706,398.9 706.4,395.1 706.3,392.2 704.3,387.8 704.2,385.1 704.5,382.5 703.5,379.5 707.1,380.3 709.9,379.9 712.9,380.1 715.6,380.7 718.9,381.5 721.1,379.3 723.7,378.3 725.2,375.5 726.7,372.5 729,370.7 732.1,367.8 734,366.3 736.2,364.8 739.8,364.4 743.3,367 745.2,370.9 747.7,369.7 752.2,369.1" fill="none" stroke="#c1272d" stroke-width="1.9" stroke-linejoin="round"/><circle cx="316.5" cy="490" r="5.4" fill="#b71c1c"/><text x="318" y="513.5" font-size="21.9" fill="#2a3990">Mawson station</text><circle cx="626.5" cy="557" r="5.4" fill="#b71c1c"/><text x="647.5" y="564.5" font-size="21.9" fill="#2a3990">Davis station</text><path d="M85,205 102,280 114,336 122,372 128.5,401" fill="none" stroke="#000" stroke-width="1.0" stroke-linejoin="round"/><path d="M215,180 218,196 220,214 222,226 230,238 240,241 250,246 260,254 268,264 272,269 266,273 256,274.4 240,273 228,269 231,298 233.6,325 238,352 240.6,381 244,405 252,421 253.6,437" fill="none" stroke="#000" stroke-width="1.0" stroke-linejoin="round"/><path d="M345.9,169 347,200 350,260 352,288 353.5,316 354.5,343 355.5,371 357,397 358,417 358.9,429" fill="none" stroke="#000" stroke-width="1.0" stroke-linejoin="round"/><path d="M477.5,168 475.5,221 474,285 471.5,340 469.5,401" fill="none" stroke="#000" stroke-width="1.0" stroke-linejoin="round"/><path d="M600.8,241 596.8,280 589.3,346 583.8,397 579.8,430 577,463 575.4,475 572.9,478 566,486 567,491 565,498 567,504 570.4,506.4 570.4,516" fill="none" stroke="#000" stroke-width="1.0" stroke-linejoin="round"/><path d="M725.9,260 721.9,280 718.4,300 713.4,328 709.9,346 706.4,363 703.9,377.4" fill="none" stroke="#000" stroke-width="1.0" stroke-linejoin="round"/><rect x="70.4" y="172.7" width="26.1" height="29.5" rx="3.6" fill="#fff" stroke="#0a0a0a" stroke-width="1.0"/><text x="83.4" y="195.9" font-size="22" text-anchor="middle" fill="#000">1</text><rect x="201" y="150.9" width="26.1" height="29.5" rx="3.6" fill="#fff" stroke="#0a0a0a" stroke-width="1.0"/><text x="214" y="174.1" font-size="22" text-anchor="middle" fill="#000">2</text><rect x="332.5" y="139.6" width="26.1" height="29.5" rx="3.6" fill="#fff" stroke="#0a0a0a" stroke-width="1.0"/><text x="345.6" y="162.8" font-size="22" text-anchor="middle" fill="#000">3</text><rect x="464.8" y="138.9" width="26.1" height="29.5" rx="3.6" fill="#fff" stroke="#0a0a0a" stroke-width="1.0"/><text x="477.9" y="162.1" font-size="22" text-anchor="middle" fill="#000">4</text><rect x="590.6" y="203" width="26.1" height="29.5" rx="3.6" fill="#fff" stroke="#0a0a0a" stroke-width="1.0"/><text x="603.6" y="226.2" font-size="22" text-anchor="middle" fill="#000">5</text><rect x="717.6" y="222.2" width="26.1" height="29.5" rx="3.6" fill="#fff" stroke="#0a0a0a" stroke-width="1.0"/><text x="730.6" y="245.4" font-size="22" text-anchor="middle" fill="#000">6</text></g></defs>
<rect x="0" y="0" width="2102" height="2132" fill="#ffffff"/>
<g transform="translate(0,0)"><text class="tag" x="12.5" y="34.2">A</text><text class="ttl" x="61.8" y="114.8">Surface</text><g clip-path="url(#mclip)"><use href="#mapbg"/><path d="M247.6,424.6 l10.8,10.8 M247.6,435.4 l10.8,-10.8" stroke="#000" stroke-width="1.0" fill="none"/><path d="M470.4,217 l10.8,10.8 M470.4,227.8 l10.8,-10.8" stroke="#000" stroke-width="1.0" fill="none"/><path d="M574.6,426.1 l10.8,10.8 M574.6,436.9 l10.8,-10.8" stroke="#000" stroke-width="1.0" fill="none"/><path d="M559.4,492.3 l10.8,10.8 M559.4,503.1 l10.8,-10.8" stroke="#000" stroke-width="1.0" fill="none"/><path d="M704.5,340.6 l10.8,10.8 M704.5,351.4 l10.8,-10.8" stroke="#000" stroke-width="1.0" fill="none"/><path d="M701,357.6 l10.8,10.8 M701,368.4 l10.8,-10.8" stroke="#000" stroke-width="1.0" fill="none"/><circle cx="116" cy="345.4" r="10.5" fill="#e32d22"/><circle cx="122.1" cy="372.9" r="10" fill="#e32d22"/><circle cx="128.4" cy="400.9" r="9.5" fill="#e32d22"/><circle cx="227.6" cy="269" r="8.4" fill="#e32d22"/><circle cx="230.8" cy="298" r="11.7" fill="#3a9b8c"/><circle cx="233.8" cy="325.3" r="11.6" fill="#ebebeb"/><circle cx="237.8" cy="352.6" r="10.5" fill="#ebebeb"/><circle cx="240.4" cy="381.5" r="11.2" fill="#3a9b8c"/><circle cx="253" cy="422" r="10.2" fill="#3a9b8c"/><circle cx="253.5" cy="438.5" r="10" fill="#3a9b8c"/><circle cx="244" cy="405" r="7.3" fill="#e32d22"/><circle cx="294" cy="434.4" r="8" fill="#e32d22"/><circle cx="302.4" cy="431.5" r="9.5" fill="#3a9b8c"/><circle cx="352.4" cy="287" r="9.2" fill="#e32d22"/><circle cx="353.1" cy="315" r="6.5" fill="#e32d22"/><circle cx="354.4" cy="343.4" r="5" fill="#3a9b8c"/><circle cx="355.4" cy="370.7" r="7.2" fill="#e32d22"/><circle cx="357.4" cy="397.9" r="10" fill="#3a9b8c"/><circle cx="358.9" cy="428.8" r="9.2" fill="#3a9b8c"/><circle cx="357.7" cy="411.9" r="10" fill="#ebebeb"/><circle cx="358.4" cy="419.9" r="10" fill="#ebebeb"/><circle cx="475.5" cy="239.9" r="8" fill="#e32d22"/><circle cx="474.5" cy="258.9" r="11" fill="#e32d22"/><circle cx="473.5" cy="298.6" r="8" fill="#3a9b8c"/><circle cx="474" cy="285.2" r="6.8" fill="#e32d22"/><circle cx="471.5" cy="309.4" r="12" fill="#e32d22"/><circle cx="472.5" cy="316.5" r="10" fill="#ebebeb"/><circle cx="472.5" cy="328" r="9.5" fill="#e32d22"/><circle cx="472" cy="343" r="12" fill="#e32d22"/><circle cx="471.2" cy="360.4" r="7.5" fill="#e32d22"/><circle cx="470.8" cy="378.9" r="10" fill="#e32d22"/><circle cx="470" cy="391.9" r="11.5" fill="#3a9b8c"/><circle cx="469.5" cy="401.4" r="11" fill="#ebebeb"/><circle cx="589.4" cy="350.6" r="5" fill="#3a9b8c"/><circle cx="583.3" cy="405.5" r="8.9" fill="#e32d22"/><circle cx="576.9" cy="458.4" r="10.5" fill="#e32d22"/><circle cx="577.9" cy="450" r="8.5" fill="#3a9b8c"/><circle cx="578.9" cy="441" r="8" fill="#e32d22"/><circle cx="566.1" cy="477.9" r="6.8" fill="#3a9b8c"/><circle cx="570.4" cy="515.9" r="9.2" fill="#ebebeb"/><circle cx="631" cy="244.5" r="6.7" fill="#ebebeb"/><circle cx="718.4" cy="300" r="8.3" fill="#3a9b8c"/><circle cx="713.4" cy="328" r="7" fill="#e32d22"/><circle cx="703.9" cy="377.4" r="8.8" fill="#3a9b8c"/><g fill="none" stroke="#000" stroke-width="0.8"><circle cx="116" cy="345.4" r="10.5"/><circle cx="122.1" cy="372.9" r="10"/><circle cx="128.4" cy="400.9" r="9.5"/><circle cx="227.6" cy="269" r="8.4"/><circle cx="230.8" cy="298" r="11.7"/><circle cx="233.8" cy="325.3" r="11.6"/><circle cx="237.8" cy="352.6" r="10.5"/><circle cx="240.4" cy="381.5" r="11.2"/><circle cx="253" cy="422" r="10.2"/><circle cx="253.5" cy="438.5" r="10"/><circle cx="244" cy="405" r="7.3"/><circle cx="294" cy="434.4" r="8"/><circle cx="302.4" cy="431.5" r="9.5"/><circle cx="352.4" cy="287" r="9.2"/><circle cx="353.1" cy="315" r="6.5"/><circle cx="354.4" cy="343.4" r="5"/><circle cx="355.4" cy="370.7" r="7.2"/><circle cx="357.4" cy="397.9" r="10"/><circle cx="358.9" cy="428.8" r="9.2"/><circle cx="357.7" cy="411.9" r="10"/><circle cx="358.4" cy="419.9" r="10"/><circle cx="475.5" cy="239.9" r="8"/><circle cx="474.5" cy="258.9" r="11"/><circle cx="473.5" cy="298.6" r="8"/><circle cx="474" cy="285.2" r="6.8"/><circle cx="471.5" cy="309.4" r="12"/><circle cx="472.5" cy="316.5" r="10"/><circle cx="472.5" cy="328" r="9.5"/><circle cx="472" cy="343" r="12"/><circle cx="471.2" cy="360.4" r="7.5"/><circle cx="470.8" cy="378.9" r="10"/><circle cx="470" cy="391.9" r="11.5"/><circle cx="469.5" cy="401.4" r="11"/><circle cx="589.4" cy="350.6" r="5"/><circle cx="583.3" cy="405.5" r="8.9"/><circle cx="576.9" cy="458.4" r="10.5"/><circle cx="577.9" cy="450" r="8.5"/><circle cx="578.9" cy="441" r="8"/><circle cx="566.1" cy="477.9" r="6.8"/><circle cx="570.4" cy="515.9" r="9.2"/><circle cx="631" cy="244.5" r="6.7"/><circle cx="718.4" cy="300" r="8.3"/><circle cx="713.4" cy="328" r="7"/><circle cx="703.9" cy="377.4" r="8.8"/></g></g><path d="M162.9,570.9 v5.2" stroke="#262626" stroke-width="1.35" fill="none"/><text class="ax" transform="translate(170.2,580.2) rotate(-90)" text-anchor="end">55°E</text><path d="M265.5,570.9 v5.2" stroke="#262626" stroke-width="1.35" fill="none"/><text class="ax" transform="translate(272.8,580.2) rotate(-90)" text-anchor="end">60°E</text><path d="M365.1,570.9 v5.2" stroke="#262626" stroke-width="1.35" fill="none"/><text class="ax" transform="translate(372.4,580.2) rotate(-90)" text-anchor="end">65°E</text><path d="M464.5,570.9 v5.2" stroke="#262626" stroke-width="1.35" fill="none"/><text class="ax" transform="translate(471.8,580.2) rotate(-90)" text-anchor="end">70°E</text><path d="M563.9,570.9 v5.2" stroke="#262626" stroke-width="1.35" fill="none"/><text class="ax" transform="translate(571.2,580.2) rotate(-90)" text-anchor="end">75°E</text><path d="M665.9,570.9 v5.2" stroke="#262626" stroke-width="1.35" fill="none"/><text class="ax" transform="translate(673.2,580.2) rotate(-90)" text-anchor="end">80°E</text><path d="M771,570.9 v5.2" stroke="#262626" stroke-width="1.35" fill="none"/><text class="ax" transform="translate(778.3,580.2) rotate(-90)" text-anchor="end">85°E</text><path d="M61.7,215.2 h-5.2" stroke="#262626" stroke-width="1.35" fill="none"/><text class="ax" x="51.4" y="222.3" text-anchor="end">62°S</text><path d="M61.7,330 h-5.2" stroke="#262626" stroke-width="1.35" fill="none"/><text class="ax" x="51.4" y="337.1" text-anchor="end">64°S</text><path d="M61.7,444.7 h-5.2" stroke="#262626" stroke-width="1.35" fill="none"/><text class="ax" x="51.4" y="451.8" text-anchor="end">66°S</text><path d="M61.7,559.4 h-5.2" stroke="#262626" stroke-width="1.35" fill="none"/><text class="ax" x="51.4" y="566.5" text-anchor="end">68°S</text><rect x="62.6" y="131.5" width="716.8" height="438.5" fill="none" stroke="#141414" stroke-width="1.6"/></g><g transform="translate(787.6,0)"><text class="tag" x="12.0" y="34.2">B</text><text class="ttl" x="61.8" y="114.8">Seafloor</text><g clip-path="url(#mclip)"><use href="#mapbg"/><path d="M111.6,339.6 l10.8,10.8 M111.6,350.4 l10.8,-10.8" stroke="#000" stroke-width="1.0" fill="none"/><path d="M123.6,396.2 l10.8,10.8 M123.6,407 l10.8,-10.8" stroke="#000" stroke-width="1.0" fill="none"/><path d="M222.2,264.6 l10.8,10.8 M222.2,275.4 l10.8,-10.8" stroke="#000" stroke-width="1.0" fill="none"/><path d="M247,415.6 l10.8,10.8 M247,426.4 l10.8,-10.8" stroke="#000" stroke-width="1.0" fill="none"/><path d="M349.6,337.6 l10.8,10.8 M349.6,348.4 l10.8,-10.8" stroke="#000" stroke-width="1.0" fill="none"/><path d="M350.6,365.6 l10.8,10.8 M350.6,376.4 l10.8,-10.8" stroke="#000" stroke-width="1.0" fill="none"/><path d="M352.2,391.6 l10.8,10.8 M352.2,402.4 l10.8,-10.8" stroke="#000" stroke-width="1.0" fill="none"/><path d="M470.6,217 l10.8,10.8 M470.6,227.8 l10.8,-10.8" stroke="#000" stroke-width="1.0" fill="none"/><path d="M470.2,235.2 l10.8,10.8 M470.2,246 l10.8,-10.8" stroke="#000" stroke-width="1.0" fill="none"/><path d="M468.2,291.6 l10.8,10.8 M468.2,302.4 l10.8,-10.8" stroke="#000" stroke-width="1.0" fill="none"/><path d="M467,313.1 l10.8,10.8 M467,323.9 l10.8,-10.8" stroke="#000" stroke-width="1.0" fill="none"/><path d="M467,324.6 l10.8,10.8 M467,335.4 l10.8,-10.8" stroke="#000" stroke-width="1.0" fill="none"/><path d="M467,337.6 l10.8,10.8 M467,348.4 l10.8,-10.8" stroke="#000" stroke-width="1.0" fill="none"/><path d="M584.2,345.2 l10.8,10.8 M584.2,356 l10.8,-10.8" stroke="#000" stroke-width="1.0" fill="none"/><path d="M574,435.6 l10.8,10.8 M574,446.4 l10.8,-10.8" stroke="#000" stroke-width="1.0" fill="none"/><path d="M565.6,509.6 l10.8,10.8 M565.6,520.4 l10.8,-10.8" stroke="#000" stroke-width="1.0" fill="none"/><path d="M708,321.6 l10.8,10.8 M708,332.4 l10.8,-10.8" stroke="#000" stroke-width="1.0" fill="none"/><path d="M704.6,340.6 l10.8,10.8 M704.6,351.4 l10.8,-10.8" stroke="#000" stroke-width="1.0" fill="none"/><path d="M698.6,372.6 l10.8,10.8 M698.6,383.4 l10.8,-10.8" stroke="#000" stroke-width="1.0" fill="none"/><circle cx="122" cy="372.6" r="9.6" fill="#ebebeb"/><circle cx="231.6" cy="298.4" r="10" fill="#ebebeb"/><circle cx="234.6" cy="325" r="8.4" fill="#3a9b8c"/><circle cx="238.6" cy="352.4" r="10" fill="#ebebeb"/><circle cx="241" cy="381" r="7.6" fill="#3a9b8c"/><circle cx="244" cy="405" r="9.6" fill="#ebebeb"/><circle cx="253" cy="429.4" r="6.6" fill="#ebebeb"/><circle cx="254" cy="438" r="7.6" fill="#ebebeb"/><circle cx="294" cy="434" r="2.8" fill="#ebebeb"/><circle cx="302.6" cy="431.4" r="7" fill="#e32d22"/><circle cx="352.4" cy="288" r="8" fill="#e32d22"/><circle cx="353.4" cy="315.6" r="9.2" fill="#e32d22"/><circle cx="359" cy="429" r="8.4" fill="#3a9b8c"/><circle cx="358.8" cy="423.5" r="5.5" fill="#e32d22"/><circle cx="358" cy="412" r="11" fill="#ebebeb"/><circle cx="358.6" cy="421" r="6.6" fill="#ebebeb"/><circle cx="475" cy="259.4" r="6.4" fill="#e32d22"/><circle cx="474.4" cy="285" r="8.4" fill="#e32d22"/><circle cx="472" cy="309" r="8.6" fill="#e32d22"/><circle cx="472" cy="361" r="7" fill="#e32d22"/><circle cx="471.4" cy="379" r="7.6" fill="#3a9b8c"/><circle cx="471" cy="392.4" r="8.6" fill="#3a9b8c"/><circle cx="470.4" cy="401.4" r="8" fill="#e32d22"/><circle cx="583.4" cy="405.6" r="7.6" fill="#e32d22"/><circle cx="577.6" cy="458" r="12.4" fill="#3a9b8c"/><circle cx="578.6" cy="450" r="9.6" fill="#e32d22"/><circle cx="581" cy="433.6" r="9.4" fill="#e32d22"/><circle cx="566" cy="478.6" r="10" fill="#e32d22"/><circle cx="566" cy="502.6" r="11" fill="#e32d22"/><circle cx="706.6" cy="363" r="8.4" fill="#e32d22"/><g fill="none" stroke="#000" stroke-width="0.8"><circle cx="122" cy="372.6" r="9.6"/><circle cx="231.6" cy="298.4" r="10"/><circle cx="234.6" cy="325" r="8.4"/><circle cx="238.6" cy="352.4" r="10"/><circle cx="241" cy="381" r="7.6"/><circle cx="244" cy="405" r="9.6"/><circle cx="253" cy="429.4" r="6.6"/><circle cx="254" cy="438" r="7.6"/><circle cx="294" cy="434" r="2.8"/><circle cx="302.6" cy="431.4" r="7"/><circle cx="352.4" cy="288" r="8"/><circle cx="353.4" cy="315.6" r="9.2"/><circle cx="359" cy="429" r="8.4"/><circle cx="358.8" cy="423.5" r="5.5"/><circle cx="358" cy="412" r="11"/><circle cx="358.6" cy="421" r="6.6"/><circle cx="475" cy="259.4" r="6.4"/><circle cx="474.4" cy="285" r="8.4"/><circle cx="472" cy="309" r="8.6"/><circle cx="472" cy="361" r="7"/><circle cx="471.4" cy="379" r="7.6"/><circle cx="471" cy="392.4" r="8.6"/><circle cx="470.4" cy="401.4" r="8"/><circle cx="583.4" cy="405.6" r="7.6"/><circle cx="577.6" cy="458" r="12.4"/><circle cx="578.6" cy="450" r="9.6"/><circle cx="581" cy="433.6" r="9.4"/><circle cx="566" cy="478.6" r="10"/><circle cx="566" cy="502.6" r="11"/><circle cx="706.6" cy="363" r="8.4"/></g></g><path d="M162.9,570.9 v5.2" stroke="#262626" stroke-width="1.35" fill="none"/><text class="ax" transform="translate(170.2,580.2) rotate(-90)" text-anchor="end">55°E</text><path d="M265.5,570.9 v5.2" stroke="#262626" stroke-width="1.35" fill="none"/><text class="ax" transform="translate(272.8,580.2) rotate(-90)" text-anchor="end">60°E</text><path d="M365.1,570.9 v5.2" stroke="#262626" stroke-width="1.35" fill="none"/><text class="ax" transform="translate(372.4,580.2) rotate(-90)" text-anchor="end">65°E</text><path d="M464.5,570.9 v5.2" stroke="#262626" stroke-width="1.35" fill="none"/><text class="ax" transform="translate(471.8,580.2) rotate(-90)" text-anchor="end">70°E</text><path d="M563.9,570.9 v5.2" stroke="#262626" stroke-width="1.35" fill="none"/><text class="ax" transform="translate(571.2,580.2) rotate(-90)" text-anchor="end">75°E</text><path d="M665.9,570.9 v5.2" stroke="#262626" stroke-width="1.35" fill="none"/><text class="ax" transform="translate(673.2,580.2) rotate(-90)" text-anchor="end">80°E</text><path d="M771,570.9 v5.2" stroke="#262626" stroke-width="1.35" fill="none"/><text class="ax" transform="translate(778.3,580.2) rotate(-90)" text-anchor="end">85°E</text><path d="M61.7,215.2 h-5.2" stroke="#262626" stroke-width="1.35" fill="none"/><text class="ax" x="51.4" y="222.3" text-anchor="end">62°S</text><path d="M61.7,330 h-5.2" stroke="#262626" stroke-width="1.35" fill="none"/><text class="ax" x="51.4" y="337.1" text-anchor="end">64°S</text><path d="M61.7,444.7 h-5.2" stroke="#262626" stroke-width="1.35" fill="none"/><text class="ax" x="51.4" y="451.8" text-anchor="end">66°S</text><path d="M61.7,559.4 h-5.2" stroke="#262626" stroke-width="1.35" fill="none"/><text class="ax" x="51.4" y="566.5" text-anchor="end">68°S</text><rect x="62.6" y="131.5" width="716.8" height="438.5" fill="none" stroke="#141414" stroke-width="1.6"/></g><g transform="translate(0,708.6)"><text class="tag" x="12.5" y="34.2">C</text><text class="ttl" x="61.8" y="114.8">Surface</text><g clip-path="url(#mclip)"><use href="#mapbg"/><path d="M287.6,426.6 l10.8,10.8 M287.6,437.4 l10.8,-10.8" stroke="#000" stroke-width="1.0" fill="none"/><path d="M347.6,309.6 l10.8,10.8 M347.6,320.4 l10.8,-10.8" stroke="#000" stroke-width="1.0" fill="none"/><path d="M470.6,217 l10.8,10.8 M470.6,227.8 l10.8,-10.8" stroke="#000" stroke-width="1.0" fill="none"/><path d="M470.2,233.6 l10.8,10.8 M470.2,244.4 l10.8,-10.8" stroke="#000" stroke-width="1.0" fill="none"/><path d="M467,313.6 l10.8,10.8 M467,324.4 l10.8,-10.8" stroke="#000" stroke-width="1.0" fill="none"/><path d="M467,322.6 l10.8,10.8 M467,333.4 l10.8,-10.8" stroke="#000" stroke-width="1.0" fill="none"/><path d="M583.6,344.6 l10.8,10.8 M583.6,355.4 l10.8,-10.8" stroke="#000" stroke-width="1.0" fill="none"/><path d="M574.6,425.6 l10.8,10.8 M574.6,436.4 l10.8,-10.8" stroke="#000" stroke-width="1.0" fill="none"/><path d="M571.6,453.6 l10.8,10.8 M571.6,464.4 l10.8,-10.8" stroke="#000" stroke-width="1.0" fill="none"/><path d="M560.2,473.6 l10.8,10.8 M560.2,484.4 l10.8,-10.8" stroke="#000" stroke-width="1.0" fill="none"/><path d="M713,294.6 l10.8,10.8 M713,305.4 l10.8,-10.8" stroke="#000" stroke-width="1.0" fill="none"/><path d="M701.2,357.6 l10.8,10.8 M701.2,368.4 l10.8,-10.8" stroke="#000" stroke-width="1.0" fill="none"/><circle cx="116" cy="345" r="14" fill="#fbd822" fill-opacity="0.9" stroke="#000" stroke-width="1.9"/><path d="M116,345 v-14" stroke="#000" stroke-width="1.9" fill="none"/><circle cx="122" cy="372.6" r="10" fill="#fbd822" fill-opacity="0.9" stroke="#000" stroke-width="1.9"/><path d="M122,372.6 v-10" stroke="#000" stroke-width="1.9" fill="none"/><circle cx="129" cy="400.6" r="10" fill="#fbd822" fill-opacity="0.9" stroke="#000" stroke-width="1.9"/><path d="M129,400.6 v-10" stroke="#000" stroke-width="1.9" fill="none"/><circle cx="227.6" cy="268.6" r="10" fill="#ad71b5" fill-opacity="0.9" stroke="#000" stroke-width="1.9"/><path d="M227.6,268.6 v-10" stroke="#000" stroke-width="1.9" fill="none"/><circle cx="230.6" cy="298" r="13.6" fill="#fbd822" fill-opacity="0.9" stroke="#000" stroke-width="1.9"/><path d="M230.6,298 v-13.6" stroke="#000" stroke-width="1.9" fill="none"/><path d="M234,325 L234.00,311.00 A14,14 0 1 1 227.26,312.73 Z" fill="#fbd822" fill-opacity="0.9" stroke="#000" stroke-width="1.9" stroke-linejoin="round"/><path d="M234,325 L227.26,312.73 A14,14 0 0 1 234.00,311.00 Z" fill="#ad71b5" fill-opacity="0.9" stroke="#000" stroke-width="1.9" stroke-linejoin="round"/><circle cx="238" cy="352.4" r="8" fill="#ad71b5" fill-opacity="0.9" stroke="#000" stroke-width="1.9"/><path d="M238,352.4 v-8" stroke="#000" stroke-width="1.9" fill="none"/><circle cx="240.6" cy="381" r="7.4" fill="#fbd822" fill-opacity="0.9" stroke="#000" stroke-width="1.9"/><path d="M240.6,381 v-7.4" stroke="#000" stroke-width="1.9" fill="none"/><path d="M243.6,404.6 L243.60,398.60 A6,6 0 0 1 243.60,410.60 Z" fill="#fbd822" fill-opacity="0.9" stroke="#000" stroke-width="1.9" stroke-linejoin="round"/><path d="M243.6,404.6 L243.60,410.60 A6,6 0 0 1 243.60,398.60 Z" fill="#ad71b5" fill-opacity="0.9" stroke="#000" stroke-width="1.9" stroke-linejoin="round"/><circle cx="252" cy="421" r="8.4" fill="#fbd822" fill-opacity="0.9" stroke="#000" stroke-width="1.9"/><path d="M252,421 v-8.4" stroke="#000" stroke-width="1.9" fill="none"/><circle cx="253.6" cy="437.6" r="8.4" fill="#fbd822" fill-opacity="0.9" stroke="#000" stroke-width="1.9"/><path d="M253.6,437.6 v-8.4" stroke="#000" stroke-width="1.9" fill="none"/><circle cx="302" cy="431" r="7.4" fill="#fbd822" fill-opacity="0.9" stroke="#000" stroke-width="1.9"/><path d="M302,431 v-7.4" stroke="#000" stroke-width="1.9" fill="none"/><circle cx="352" cy="287" r="14" fill="#ad71b5" fill-opacity="0.9" stroke="#000" stroke-width="1.9"/><path d="M352,287 v-14" stroke="#000" stroke-width="1.9" fill="none"/><circle cx="354.6" cy="342.4" r="9.4" fill="#fbd822" fill-opacity="0.9" stroke="#000" stroke-width="1.9"/><path d="M354.6,342.4 v-9.4" stroke="#000" stroke-width="1.9" fill="none"/><circle cx="355.6" cy="370" r="9.6" fill="#ad71b5" fill-opacity="0.9" stroke="#000" stroke-width="1.9"/><path d="M355.6,370 v-9.6" stroke="#000" stroke-width="1.9" fill="none"/><circle cx="358.6" cy="429" r="8.4" fill="#fbd822" fill-opacity="0.9" stroke="#000" stroke-width="1.9"/><path d="M358.6,429 v-8.4" stroke="#000" stroke-width="1.9" fill="none"/><circle cx="357" cy="398" r="14.6" fill="#fbd822" fill-opacity="0.9" stroke="#000" stroke-width="1.9"/><path d="M357,398 v-14.6" stroke="#000" stroke-width="1.9" fill="none"/><circle cx="358" cy="420" r="11" fill="#fbd822" fill-opacity="0.9" stroke="#000" stroke-width="1.9"/><path d="M358,420 v-11" stroke="#000" stroke-width="1.9" fill="none"/><circle cx="475" cy="258.6" r="14.6" fill="#fbd822" fill-opacity="0.9" stroke="#000" stroke-width="1.9"/><path d="M475,258.6 v-14.6" stroke="#000" stroke-width="1.9" fill="none"/><circle cx="473.6" cy="298" r="13" fill="#fbd822" fill-opacity="0.9" stroke="#000" stroke-width="1.9"/><path d="M473.6,298 v-13" stroke="#000" stroke-width="1.9" fill="none"/><circle cx="472" cy="309" r="10" fill="#fbd822" fill-opacity="0.9" stroke="#000" stroke-width="1.9"/><path d="M472,309 v-10" stroke="#000" stroke-width="1.9" fill="none"/><circle cx="471.6" cy="343" r="7.6" fill="#fbd822" fill-opacity="0.9" stroke="#000" stroke-width="1.9"/><path d="M471.6,343 v-7.6" stroke="#000" stroke-width="1.9" fill="none"/><circle cx="471.4" cy="361" r="13" fill="#ad71b5" fill-opacity="0.9" stroke="#000" stroke-width="1.9"/><path d="M471.4,361 v-13" stroke="#000" stroke-width="1.9" fill="none"/><circle cx="470.6" cy="378.6" r="9.6" fill="#ad71b5" fill-opacity="0.9" stroke="#000" stroke-width="1.9"/><path d="M470.6,378.6 v-9.6" stroke="#000" stroke-width="1.9" fill="none"/><circle cx="470" cy="392.4" r="7.4" fill="#fbd822" fill-opacity="0.9" stroke="#000" stroke-width="1.9"/><path d="M470,392.4 v-7.4" stroke="#000" stroke-width="1.9" fill="none"/><path d="M470,401.4 L470.00,392.80 A8.6,8.6 0 1 1 462.46,397.26 Z" fill="#fbd822" fill-opacity="0.9" stroke="#000" stroke-width="1.9" stroke-linejoin="round"/><path d="M470,401.4 L462.46,397.26 A8.6,8.6 0 0 1 466.34,393.62 Z" fill="#e94849" fill-opacity="0.9" stroke="#000" stroke-width="1.9" stroke-linejoin="round"/><path d="M470,401.4 L466.34,393.62 A8.6,8.6 0 0 1 470.00,392.80 Z" fill="#ad71b5" fill-opacity="0.9" stroke="#000" stroke-width="1.9" stroke-linejoin="round"/><path d="M583,405.6 L583.00,393.20 A12.4,12.4 0 0 1 588.97,394.73 Z" fill="#fbd822" fill-opacity="0.9" stroke="#000" stroke-width="1.9" stroke-linejoin="round"/><path d="M583,405.6 L588.97,394.73 A12.4,12.4 0 1 1 583.00,393.20 Z" fill="#ad71b5" fill-opacity="0.9" stroke="#000" stroke-width="1.9" stroke-linejoin="round"/><circle cx="579" cy="440.6" r="7.4" fill="#fbd822" fill-opacity="0.9" stroke="#000" stroke-width="1.9"/><path d="M579,440.6 v-7.4" stroke="#000" stroke-width="1.9" fill="none"/><circle cx="578" cy="449.6" r="8" fill="#fbd822" fill-opacity="0.9" stroke="#000" stroke-width="1.9"/><path d="M578,449.6 v-8" stroke="#000" stroke-width="1.9" fill="none"/><circle cx="565" cy="497" r="6" fill="#b37557" fill-opacity="0.9" stroke="#000" stroke-width="1.9"/><path d="M565,497 v-6" stroke="#000" stroke-width="1.9" fill="none"/><circle cx="570.4" cy="514.5" r="7" fill="#b37557" fill-opacity="0.9" stroke="#000" stroke-width="1.9"/><path d="M570.4,514.5 v-7" stroke="#000" stroke-width="1.9" fill="none"/><path d="M631,244.6 L631.00,238.60 A6,6 0 1 1 627.47,249.45 Z" fill="#fbd822" fill-opacity="0.9" stroke="#000" stroke-width="1.9" stroke-linejoin="round"/><path d="M631,244.6 L627.47,249.45 A6,6 0 0 1 631.00,238.60 Z" fill="#ad71b5" fill-opacity="0.9" stroke="#000" stroke-width="1.9" stroke-linejoin="round"/><circle cx="713" cy="327" r="7.4" fill="#e94849" fill-opacity="0.9" stroke="#000" stroke-width="1.9"/><path d="M713,327 v-7.4" stroke="#000" stroke-width="1.9" fill="none"/><circle cx="710" cy="345" r="9.6" fill="#ad71b5" fill-opacity="0.9" stroke="#000" stroke-width="1.9"/><path d="M710,345 v-9.6" stroke="#000" stroke-width="1.9" fill="none"/><circle cx="703.6" cy="377.6" r="7.4" fill="#ad71b5" fill-opacity="0.9" stroke="#000" stroke-width="1.9"/><path d="M703.6,377.6 v-7.4" stroke="#000" stroke-width="1.9" fill="none"/></g><path d="M162.9,570.9 v5.2" stroke="#262626" stroke-width="1.35" fill="none"/><text class="ax" transform="translate(170.2,580.2) rotate(-90)" text-anchor="end">55°E</text><path d="M265.5,570.9 v5.2" stroke="#262626" stroke-width="1.35" fill="none"/><text class="ax" transform="translate(272.8,580.2) rotate(-90)" text-anchor="end">60°E</text><path d="M365.1,570.9 v5.2" stroke="#262626" stroke-width="1.35" fill="none"/><text class="ax" transform="translate(372.4,580.2) rotate(-90)" text-anchor="end">65°E</text><path d="M464.5,570.9 v5.2" stroke="#262626" stroke-width="1.35" fill="none"/><text class="ax" transform="translate(471.8,580.2) rotate(-90)" text-anchor="end">70°E</text><path d="M563.9,570.9 v5.2" stroke="#262626" stroke-width="1.35" fill="none"/><text class="ax" transform="translate(571.2,580.2) rotate(-90)" text-anchor="end">75°E</text><path d="M665.9,570.9 v5.2" stroke="#262626" stroke-width="1.35" fill="none"/><text class="ax" transform="translate(673.2,580.2) rotate(-90)" text-anchor="end">80°E</text><path d="M771,570.9 v5.2" stroke="#262626" stroke-width="1.35" fill="none"/><text class="ax" transform="translate(778.3,580.2) rotate(-90)" text-anchor="end">85°E</text><path d="M61.7,215.2 h-5.2" stroke="#262626" stroke-width="1.35" fill="none"/><text class="ax" x="51.4" y="222.3" text-anchor="end">62°S</text><path d="M61.7,330 h-5.2" stroke="#262626" stroke-width="1.35" fill="none"/><text class="ax" x="51.4" y="337.1" text-anchor="end">64°S</text><path d="M61.7,444.7 h-5.2" stroke="#262626" stroke-width="1.35" fill="none"/><text class="ax" x="51.4" y="451.8" text-anchor="end">66°S</text><path d="M61.7,559.4 h-5.2" stroke="#262626" stroke-width="1.35" fill="none"/><text class="ax" x="51.4" y="566.5" text-anchor="end">68°S</text><rect x="62.6" y="131.5" width="716.8" height="438.5" fill="none" stroke="#141414" stroke-width="1.6"/></g><g transform="translate(787.6,708.6)"><text class="tag" x="12.0" y="34.2">D</text><text class="ttl" x="61.8" y="114.8">Seafloor</text><g clip-path="url(#mclip)"><use href="#mapbg"/><path d="M247.6,414.6 l10.8,10.8 M247.6,425.4 l10.8,-10.8" stroke="#000" stroke-width="1.0" fill="none"/><path d="M248.2,424 l10.8,10.8 M248.2,434.8 l10.8,-10.8" stroke="#000" stroke-width="1.0" fill="none"/><path d="M248.2,432.2 l10.8,10.8 M248.2,443 l10.8,-10.8" stroke="#000" stroke-width="1.0" fill="none"/><path d="M297.6,425.6 l10.8,10.8 M297.6,436.4 l10.8,-10.8" stroke="#000" stroke-width="1.0" fill="none"/><path d="M348.2,309.6 l10.8,10.8 M348.2,320.4 l10.8,-10.8" stroke="#000" stroke-width="1.0" fill="none"/><path d="M350.2,365.2 l10.8,10.8 M350.2,376 l10.8,-10.8" stroke="#000" stroke-width="1.0" fill="none"/><path d="M352,391.6 l10.8,10.8 M352,402.4 l10.8,-10.8" stroke="#000" stroke-width="1.0" fill="none"/><path d="M470.6,217 l10.8,10.8 M470.6,227.8 l10.8,-10.8" stroke="#000" stroke-width="1.0" fill="none"/><path d="M470.2,235.2 l10.8,10.8 M470.2,246 l10.8,-10.8" stroke="#000" stroke-width="1.0" fill="none"/><path d="M469.6,253.6 l10.8,10.8 M469.6,264.4 l10.8,-10.8" stroke="#000" stroke-width="1.0" fill="none"/><path d="M468.2,291.6 l10.8,10.8 M468.2,302.4 l10.8,-10.8" stroke="#000" stroke-width="1.0" fill="none"/><path d="M467,313.6 l10.8,10.8 M467,324.4 l10.8,-10.8" stroke="#000" stroke-width="1.0" fill="none"/><path d="M466.2,355.6 l10.8,10.8 M466.2,366.4 l10.8,-10.8" stroke="#000" stroke-width="1.0" fill="none"/><path d="M465,397 l10.8,10.8 M465,407.8 l10.8,-10.8" stroke="#000" stroke-width="1.0" fill="none"/><path d="M584.2,345.2 l10.8,10.8 M584.2,356 l10.8,-10.8" stroke="#000" stroke-width="1.0" fill="none"/><path d="M560,491.6 l10.8,10.8 M560,502.4 l10.8,-10.8" stroke="#000" stroke-width="1.0" fill="none"/><path d="M565.6,509.6 l10.8,10.8 M565.6,520.4 l10.8,-10.8" stroke="#000" stroke-width="1.0" fill="none"/><path d="M708,322 l10.8,10.8 M708,332.8 l10.8,-10.8" stroke="#000" stroke-width="1.0" fill="none"/><path d="M698.6,372.6 l10.8,10.8 M698.6,383.4 l10.8,-10.8" stroke="#000" stroke-width="1.0" fill="none"/><circle cx="117" cy="345" r="5.6" fill="#fbd822" fill-opacity="0.9" stroke="#000" stroke-width="1.9"/><path d="M117,345 v-5.6" stroke="#000" stroke-width="1.9" fill="none"/><circle cx="122.6" cy="372.6" r="6" fill="#fbd822" fill-opacity="0.9" stroke="#000" stroke-width="1.9"/><path d="M122.6,372.6 v-6" stroke="#000" stroke-width="1.9" fill="none"/><circle cx="129.4" cy="400.6" r="6.6" fill="#fbd822" fill-opacity="0.9" stroke="#000" stroke-width="1.9"/><path d="M129.4,400.6 v-6.6" stroke="#000" stroke-width="1.9" fill="none"/><circle cx="228" cy="269" r="6.6" fill="#fbd822" fill-opacity="0.9" stroke="#000" stroke-width="1.9"/><path d="M228,269 v-6.6" stroke="#000" stroke-width="1.9" fill="none"/><circle cx="231" cy="297.6" r="5.4" fill="#fbd822" fill-opacity="0.9" stroke="#000" stroke-width="1.9"/><path d="M231,297.6 v-5.4" stroke="#000" stroke-width="1.9" fill="none"/><circle cx="235" cy="325" r="7" fill="#fbd822" fill-opacity="0.9" stroke="#000" stroke-width="1.9"/><path d="M235,325 v-7" stroke="#000" stroke-width="1.9" fill="none"/><circle cx="238.6" cy="352.6" r="6.6" fill="#fbd822" fill-opacity="0.9" stroke="#000" stroke-width="1.9"/><path d="M238.6,352.6 v-6.6" stroke="#000" stroke-width="1.9" fill="none"/><circle cx="241.4" cy="381" r="6" fill="#fbd822" fill-opacity="0.9" stroke="#000" stroke-width="1.9"/><path d="M241.4,381 v-6" stroke="#000" stroke-width="1.9" fill="none"/><circle cx="244" cy="404.6" r="8" fill="#fbd822" fill-opacity="0.9" stroke="#000" stroke-width="1.9"/><path d="M244,404.6 v-8" stroke="#000" stroke-width="1.9" fill="none"/><circle cx="294.4" cy="434" r="6" fill="#fbd822" fill-opacity="0.9" stroke="#000" stroke-width="1.9"/><path d="M294.4,434 v-6" stroke="#000" stroke-width="1.9" fill="none"/><circle cx="352.6" cy="287" r="6" fill="#ad71b5" fill-opacity="0.9" stroke="#000" stroke-width="1.9"/><path d="M352.6,287 v-6" stroke="#000" stroke-width="1.9" fill="none"/><circle cx="355.4" cy="342.6" r="10.4" fill="#ad71b5" fill-opacity="0.9" stroke="#000" stroke-width="1.9"/><path d="M355.4,342.6 v-10.4" stroke="#000" stroke-width="1.9" fill="none"/><circle cx="358.6" cy="421" r="5" fill="#fbd822" fill-opacity="0.9" stroke="#000" stroke-width="1.9"/><path d="M358.6,421 v-5" stroke="#000" stroke-width="1.9" fill="none"/><circle cx="358.4" cy="411.6" r="6.4" fill="#fbd822" fill-opacity="0.9" stroke="#000" stroke-width="1.9"/><path d="M358.4,411.6 v-6.4" stroke="#000" stroke-width="1.9" fill="none"/><circle cx="359.4" cy="429" r="6.4" fill="#fbd822" fill-opacity="0.9" stroke="#000" stroke-width="1.9"/><path d="M359.4,429 v-6.4" stroke="#000" stroke-width="1.9" fill="none"/><circle cx="474.4" cy="284.6" r="6" fill="#fbd822" fill-opacity="0.9" stroke="#000" stroke-width="1.9"/><path d="M474.4,284.6 v-6" stroke="#000" stroke-width="1.9" fill="none"/><circle cx="472.4" cy="309" r="7.6" fill="#fbd822" fill-opacity="0.9" stroke="#000" stroke-width="1.9"/><path d="M472.4,309 v-7.6" stroke="#000" stroke-width="1.9" fill="none"/><circle cx="472.4" cy="328.4" r="6.4" fill="#fbd822" fill-opacity="0.9" stroke="#000" stroke-width="1.9"/><path d="M472.4,328.4 v-6.4" stroke="#000" stroke-width="1.9" fill="none"/><path d="M472,343 L472.00,336.20 A6.8,6.8 0 0 1 472.00,349.80 Z" fill="#fbd822" fill-opacity="0.9" stroke="#000" stroke-width="1.9" stroke-linejoin="round"/><path d="M472,343 L472.00,349.80 A6.8,6.8 0 0 1 472.00,336.20 Z" fill="#e94849" fill-opacity="0.9" stroke="#000" stroke-width="1.9" stroke-linejoin="round"/><circle cx="471" cy="379" r="7" fill="#fbd822" fill-opacity="0.9" stroke="#000" stroke-width="1.9"/><path d="M471,379 v-7" stroke="#000" stroke-width="1.9" fill="none"/><circle cx="470.6" cy="392.4" r="7.6" fill="#fbd822" fill-opacity="0.9" stroke="#000" stroke-width="1.9"/><path d="M470.6,392.4 v-7.6" stroke="#000" stroke-width="1.9" fill="none"/><circle cx="583.6" cy="405.6" r="6.4" fill="#fbd822" fill-opacity="0.9" stroke="#000" stroke-width="1.9"/><path d="M583.6,405.6 v-6.4" stroke="#000" stroke-width="1.9" fill="none"/><circle cx="579.4" cy="442" r="6" fill="#e94849" fill-opacity="0.9" stroke="#000" stroke-width="1.9"/><path d="M579.4,442 v-6" stroke="#000" stroke-width="1.9" fill="none"/><circle cx="580.6" cy="433" r="6.6" fill="#fbd822" fill-opacity="0.9" stroke="#000" stroke-width="1.9"/><path d="M580.6,433 v-6.6" stroke="#000" stroke-width="1.9" fill="none"/><circle cx="577.6" cy="458" r="10" fill="#fbd822" fill-opacity="0.9" stroke="#000" stroke-width="1.9"/><path d="M577.6,458 v-10" stroke="#000" stroke-width="1.9" fill="none"/><circle cx="578.6" cy="450" r="7.4" fill="#fbd822" fill-opacity="0.9" stroke="#000" stroke-width="1.9"/><path d="M578.6,450 v-7.4" stroke="#000" stroke-width="1.9" fill="none"/><circle cx="566.4" cy="478.4" r="6.4" fill="#fbd822" fill-opacity="0.9" stroke="#000" stroke-width="1.9"/><path d="M566.4,478.4 v-6.4" stroke="#000" stroke-width="1.9" fill="none"/><circle cx="710" cy="345" r="6.6" fill="#fbd822" fill-opacity="0.9" stroke="#000" stroke-width="1.9"/><path d="M710,345 v-6.6" stroke="#000" stroke-width="1.9" fill="none"/><circle cx="706.6" cy="363.4" r="5.6" fill="#b37557" fill-opacity="0.9" stroke="#000" stroke-width="1.9"/><path d="M706.6,363.4 v-5.6" stroke="#000" stroke-width="1.9" fill="none"/></g><path d="M162.9,570.9 v5.2" stroke="#262626" stroke-width="1.35" fill="none"/><text class="ax" transform="translate(170.2,580.2) rotate(-90)" text-anchor="end">55°E</text><path d="M265.5,570.9 v5.2" stroke="#262626" stroke-width="1.35" fill="none"/><text class="ax" transform="translate(272.8,580.2) rotate(-90)" text-anchor="end">60°E</text><path d="M365.1,570.9 v5.2" stroke="#262626" stroke-width="1.35" fill="none"/><text class="ax" transform="translate(372.4,580.2) rotate(-90)" text-anchor="end">65°E</text><path d="M464.5,570.9 v5.2" stroke="#262626" stroke-width="1.35" fill="none"/><text class="ax" transform="translate(471.8,580.2) rotate(-90)" text-anchor="end">70°E</text><path d="M563.9,570.9 v5.2" stroke="#262626" stroke-width="1.35" fill="none"/><text class="ax" transform="translate(571.2,580.2) rotate(-90)" text-anchor="end">75°E</text><path d="M665.9,570.9 v5.2" stroke="#262626" stroke-width="1.35" fill="none"/><text class="ax" transform="translate(673.2,580.2) rotate(-90)" text-anchor="end">80°E</text><path d="M771,570.9 v5.2" stroke="#262626" stroke-width="1.35" fill="none"/><text class="ax" transform="translate(778.3,580.2) rotate(-90)" text-anchor="end">85°E</text><path d="M61.7,215.2 h-5.2" stroke="#262626" stroke-width="1.35" fill="none"/><text class="ax" x="51.4" y="222.3" text-anchor="end">62°S</text><path d="M61.7,330 h-5.2" stroke="#262626" stroke-width="1.35" fill="none"/><text class="ax" x="51.4" y="337.1" text-anchor="end">64°S</text><path d="M61.7,444.7 h-5.2" stroke="#262626" stroke-width="1.35" fill="none"/><text class="ax" x="51.4" y="451.8" text-anchor="end">66°S</text><path d="M61.7,559.4 h-5.2" stroke="#262626" stroke-width="1.35" fill="none"/><text class="ax" x="51.4" y="566.5" text-anchor="end">68°S</text><rect x="62.6" y="131.5" width="716.8" height="438.5" fill="none" stroke="#141414" stroke-width="1.6"/></g><rect x="69.8" y="1431" width="676.2" height="311.1" fill="#fff"/><path d="M69.8,1438.8 H746 M69.8,1496.8 H746 M69.8,1554.8 H746 M69.8,1612.8 H746 M69.8,1670.8 H746 M69.8,1699.8 H746 M173.4,1431 V1742.1 M320.1,1431 V1742.1 M466.8,1431 V1742.1 M613.5,1431 V1742.1" stroke="#ebebeb" stroke-width="0.55" fill="none"/><path d="M69.8,1467.8 H746 M69.8,1525.8 H746 M69.8,1583.8 H746 M69.8,1641.8 H746 M100,1431 V1742.1 M246.7,1431 V1742.1 M393.4,1431 V1742.1 M540.1,1431 V1742.1 M686.8,1431 V1742.1" stroke="#ebebeb" stroke-width="1.07" fill="none"/><path d="M100,1489.6 125.6,1494.3 151.3,1498.9 176.9,1503.4 202.5,1507.8 228.1,1512 253.8,1516.1 279.4,1520 305,1523.6 330.7,1527.1 356.3,1530.3 381.9,1533.3 407.6,1536.1 433.2,1538.7 458.8,1541.1 484.4,1543.3 510.1,1545.3 535.7,1547.3 561.3,1549.1 587,1550.7 612.6,1552.3 638.2,1553.9 663.8,1555.3 689.5,1556.7 715.1,1558 715.1,1643.5 689.5,1638.4 663.8,1633.4 638.2,1628.4 612.6,1623.5 587,1618.7 561.3,1614 535.7,1609.3 510.1,1604.8 484.4,1600.5 458.8,1596.3 433.2,1592.2 407.6,1588.4 381.9,1584.8 356.3,1581.3 330.7,1578.1 305,1575.2 279.4,1572.4 253.8,1569.8 228.1,1567.5 202.5,1565.3 176.9,1563.2 151.3,1561.3 125.6,1559.5 100,1557.8Z" fill="#999999" fill-opacity="0.22"/><path d="M100,1489.6 125.6,1494.3 151.3,1498.9 176.9,1503.4 202.5,1507.8 228.1,1512 253.8,1516.1 279.4,1520 305,1523.6 330.7,1527.1 356.3,1530.3 381.9,1533.3 407.6,1536.1 433.2,1538.7 458.8,1541.1 484.4,1543.3 510.1,1545.3 535.7,1547.3 561.3,1549.1 587,1550.7 612.6,1552.3 638.2,1553.9 663.8,1555.3 689.5,1556.7 715.1,1558" fill="none" stroke="#8c8c8c" stroke-width="0.5"/><path d="M100,1557.8 125.6,1559.5 151.3,1561.3 176.9,1563.2 202.5,1565.3 228.1,1567.5 253.8,1569.8 279.4,1572.4 305,1575.2 330.7,1578.1 356.3,1581.3 381.9,1584.8 407.6,1588.4 433.2,1592.2 458.8,1596.3 484.4,1600.5 510.1,1604.8 535.7,1609.3 561.3,1614 587,1618.7 612.6,1623.5 638.2,1628.4 663.8,1633.4 689.5,1638.4 715.1,1643.5" fill="none" stroke="#8c8c8c" stroke-width="0.5"/><path d="M100,1523.7 L715.1,1600.8" stroke="#000" stroke-width="1.7" fill="none"/><circle cx="100" cy="1468.3" r="10" fill="#fff" stroke="#000" stroke-width="0.95"/><text x="100" y="1473.9" font-size="17.2" text-anchor="middle" fill="#000">A</text><circle cx="100" cy="1535.5" r="10" fill="#fff" stroke="#000" stroke-width="0.95"/><text x="100" y="1541.1" font-size="17.2" text-anchor="middle" fill="#000">B</text><circle cx="213.1" cy="1568.3" r="10" fill="#fff" stroke="#000" stroke-width="0.95"/><text x="213.1" y="1573.9" font-size="17.2" text-anchor="middle" fill="#000">C</text><circle cx="364.1" cy="1573.9" r="10" fill="#fff" stroke="#000" stroke-width="0.95"/><text x="364.1" y="1579.5" font-size="17.2" text-anchor="middle" fill="#000">D</text><circle cx="536.5" cy="1571.5" r="10" fill="#fff" stroke="#000" stroke-width="0.95"/><text x="536.5" y="1577.1" font-size="17.2" text-anchor="middle" fill="#000">E</text><circle cx="715.1" cy="1604.3" r="10" fill="#fff" stroke="#000" stroke-width="0.95"/><text x="715.1" y="1609.9" font-size="17.2" text-anchor="middle" fill="#000">F</text><rect x="69.8" y="1431" width="676.2" height="311.1" fill="none" stroke="#2e2e2e" stroke-width="1.2"/><rect x="746" y="1431" width="33.3" height="311.1" fill="#d9d9d9" stroke="#2e2e2e" stroke-width="1.07"/><text class="st" transform="translate(756.4,1586.5) rotate(90)" text-anchor="middle">T15</text><path d="M69.3,1467.8 h-5.5" stroke="#2e2e2e" stroke-width="1.07" fill="none"/><text class="ax" x="59" y="1474.6" text-anchor="end">14</text><path d="M69.3,1525.8 h-5.5" stroke="#2e2e2e" stroke-width="1.07" fill="none"/><text class="ax" x="59" y="1532.6" text-anchor="end">12</text><path d="M69.3,1583.8 h-5.5" stroke="#2e2e2e" stroke-width="1.07" fill="none"/><text class="ax" x="59" y="1590.6" text-anchor="end">10</text><path d="M69.3,1641.8 h-5.5" stroke="#2e2e2e" stroke-width="1.07" fill="none"/><text class="ax" x="59" y="1648.6" text-anchor="end">8</text><rect x="69.8" y="1753.7" width="676.2" height="310.9" fill="#fff"/><path d="M69.8,1761.6 H746 M69.8,1819.6 H746 M69.8,1877.6 H746 M69.8,1935.6 H746 M69.8,1993.6 H746 M69.8,2022.6 H746 M173.4,1753.7 V2064.6 M320.1,1753.7 V2064.6 M466.8,1753.7 V2064.6 M613.5,1753.7 V2064.6" stroke="#ebebeb" stroke-width="0.55" fill="none"/><path d="M69.8,1790.6 H746 M69.8,1848.6 H746 M69.8,1906.6 H746 M69.8,1964.6 H746 M100,1753.7 V2064.6 M246.7,1753.7 V2064.6 M393.4,1753.7 V2064.6 M540.1,1753.7 V2064.6 M686.8,1753.7 V2064.6" stroke="#ebebeb" stroke-width="1.07" fill="none"/><path d="M99.9,1879 125.5,1883.4 151.2,1887.6 176.8,1891.6 202.4,1895.4 228,1899.1 253.7,1902.6 279.3,1905.8 304.9,1908.8 330.5,1911.7 356.1,1914.3 381.8,1916.7 407.4,1919 433,1921.1 458.6,1923 484.3,1924.9 509.9,1926.6 535.5,1928.2 561.1,1929.8 586.8,1931.3 612.4,1932.7 638,1934 663.6,1935.3 689.3,1936.6 714.9,1937.8 714.9,2034.4 689.3,2029.3 663.6,2024.2 638,2019.1 612.4,2014 586.8,2009.1 561.1,2004.2 535.5,1999.3 509.9,1994.6 484.3,1989.9 458.6,1985.4 433,1980.9 407.4,1976.7 381.8,1972.5 356.1,1968.6 330.5,1964.8 304.9,1961.3 279.3,1957.9 253.7,1954.8 228,1951.8 202.4,1949.1 176.8,1946.6 151.2,1944.2 125.5,1942 99.9,1940Z" fill="#999999" fill-opacity="0.22"/><path d="M99.9,1879 125.5,1883.4 151.2,1887.6 176.8,1891.6 202.4,1895.4 228,1899.1 253.7,1902.6 279.3,1905.8 304.9,1908.8 330.5,1911.7 356.1,1914.3 381.8,1916.7 407.4,1919 433,1921.1 458.6,1923 484.3,1924.9 509.9,1926.6 535.5,1928.2 561.1,1929.8 586.8,1931.3 612.4,1932.7 638,1934 663.6,1935.3 689.3,1936.6 714.9,1937.8" fill="none" stroke="#8c8c8c" stroke-width="0.5"/><path d="M99.9,1940 125.5,1942 151.2,1944.2 176.8,1946.6 202.4,1949.1 228,1951.8 253.7,1954.8 279.3,1957.9 304.9,1961.3 330.5,1964.8 356.1,1968.6 381.8,1972.5 407.4,1976.7 433,1980.9 458.6,1985.4 484.3,1989.9 509.9,1994.6 535.5,1999.3 561.1,2004.2 586.8,2009.1 612.4,2014 638,2019.1 663.6,2024.2 689.3,2029.3 714.9,2034.4" fill="none" stroke="#8c8c8c" stroke-width="0.5"/><path d="M99.9,1909.5 L714.9,1986.1" stroke="#000" stroke-width="1.7" fill="none"/><circle cx="99.8" cy="1883.3" r="10" fill="#fff" stroke="#000" stroke-width="0.95"/><text x="99.8" y="1888.9" font-size="17.2" text-anchor="middle" fill="#000">B</text><circle cx="128.5" cy="1903.2" r="10" fill="#fff" stroke="#000" stroke-width="0.95"/><text x="128.5" y="1908.8" font-size="17.2" text-anchor="middle" fill="#000">F</text><circle cx="242.5" cy="1930.7" r="10" fill="#fff" stroke="#000" stroke-width="0.95"/><text x="242.5" y="1936.3" font-size="17.2" text-anchor="middle" fill="#000">E</text><circle cx="99.8" cy="1951" r="10" fill="#fff" stroke="#000" stroke-width="0.95"/><text x="99.8" y="1956.6" font-size="17.2" text-anchor="middle" fill="#000">A</text><circle cx="364.2" cy="1952.8" r="10" fill="#fff" stroke="#000" stroke-width="0.95"/><text x="364.2" y="1958.4" font-size="17.2" text-anchor="middle" fill="#000">C</text><circle cx="643.4" cy="1958.1" r="10" fill="#fff" stroke="#000" stroke-width="0.95"/><text x="643.4" y="1963.7" font-size="17.2" text-anchor="middle" fill="#000">D</text><rect x="69.8" y="1753.7" width="676.2" height="310.9" fill="none" stroke="#2e2e2e" stroke-width="1.2"/><rect x="746" y="1753.7" width="33.3" height="310.9" fill="#d9d9d9" stroke="#2e2e2e" stroke-width="1.07"/><text class="st" transform="translate(756.4,1909.2) rotate(90)" text-anchor="middle">T18</text><path d="M69.3,1790.6 h-5.5" stroke="#2e2e2e" stroke-width="1.07" fill="none"/><text class="ax" x="59" y="1797.4" text-anchor="end">14</text><path d="M69.3,1848.6 h-5.5" stroke="#2e2e2e" stroke-width="1.07" fill="none"/><text class="ax" x="59" y="1855.4" text-anchor="end">12</text><path d="M69.3,1906.6 h-5.5" stroke="#2e2e2e" stroke-width="1.07" fill="none"/><text class="ax" x="59" y="1913.4" text-anchor="end">10</text><path d="M69.3,1964.6 h-5.5" stroke="#2e2e2e" stroke-width="1.07" fill="none"/><text class="ax" x="59" y="1971.4" text-anchor="end">8</text><path d="M100,2065.1 v5.5" stroke="#2e2e2e" stroke-width="1.07" fill="none"/><text class="ax" x="100" y="2088.4" text-anchor="middle">0</text><path d="M246.7,2065.1 v5.5" stroke="#2e2e2e" stroke-width="1.07" fill="none"/><text class="ax" x="246.7" y="2088.4" text-anchor="middle">200</text><path d="M393.4,2065.1 v5.5" stroke="#2e2e2e" stroke-width="1.07" fill="none"/><text class="ax" x="393.4" y="2088.4" text-anchor="middle">400</text><path d="M540.1,2065.1 v5.5" stroke="#2e2e2e" stroke-width="1.07" fill="none"/><text class="ax" x="540.1" y="2088.4" text-anchor="middle">600</text><path d="M686.8,2065.1 v5.5" stroke="#2e2e2e" stroke-width="1.07" fill="none"/><text class="ax" x="686.8" y="2088.4" text-anchor="middle">800</text><text class="axt" x="407.9" y="2113" text-anchor="middle">Distance from swarm [m]</text><text class="axt" transform="translate(28.7,1747.8) rotate(-90)" text-anchor="middle">Short marker, log(copies per sample)</text><text class="tag" x="12.4" y="1450.5">E</text><rect x="857.2" y="1431" width="675.7" height="311.1" fill="#fff"/><path d="M857.2,1438.8 H1532.9 M857.2,1496.8 H1532.9 M857.2,1554.8 H1532.9 M857.2,1612.8 H1532.9 M857.2,1670.8 H1532.9 M857.2,1699.8 H1532.9 M961,1431 V1742.1 M1107.7,1431 V1742.1 M1254.3,1431 V1742.1 M1401.1,1431 V1742.1" stroke="#ebebeb" stroke-width="0.55" fill="none"/><path d="M857.2,1467.8 H1532.9 M857.2,1525.8 H1532.9 M857.2,1583.8 H1532.9 M857.2,1641.8 H1532.9 M887.6,1431 V1742.1 M1034.3,1431 V1742.1 M1181,1431 V1742.1 M1327.7,1431 V1742.1 M1474.4,1431 V1742.1" stroke="#ebebeb" stroke-width="1.07" fill="none"/><circle cx="887.6" cy="1468" r="16.6" fill="#ffd700" fill-opacity="1" stroke="#000" stroke-width="1.4"/><path d="M887.6,1468 v-16.6" stroke="#000" stroke-width="1.4" fill="none"/><path d="M887.6,1534.6 L887.60,1518.00 A16.6,16.6 0 0 1 889.89,1518.16 Z" fill="#a0522d" fill-opacity="1" stroke="#000" stroke-width="1.4" stroke-linejoin="round"/><path d="M887.6,1534.6 L889.89,1518.16 A16.6,16.6 0 1 1 887.60,1518.00 Z" fill="#ffd700" fill-opacity="1" stroke="#000" stroke-width="1.4" stroke-linejoin="round"/><path d="M1000.5,1565.4 L1000.50,1548.80 A16.6,16.6 0 1 1 991.17,1551.67 Z" fill="#ffd700" fill-opacity="1" stroke="#000" stroke-width="1.4" stroke-linejoin="round"/><path d="M1000.5,1565.4 L991.17,1551.67 A16.6,16.6 0 0 1 1000.50,1548.80 Z" fill="#984ea3" fill-opacity="1" stroke="#000" stroke-width="1.4" stroke-linejoin="round"/><path d="M1151.9,1573.6 L1151.90,1557.00 A16.6,16.6 0 0 1 1153.15,1557.05 Z" fill="#a0522d" fill-opacity="1" stroke="#000" stroke-width="1.4" stroke-linejoin="round"/><path d="M1151.9,1573.6 L1153.15,1557.05 A16.6,16.6 0 0 1 1154.19,1557.16 Z" fill="#ff7f00" fill-opacity="1" stroke="#000" stroke-width="1.4" stroke-linejoin="round"/><path d="M1151.9,1573.6 L1154.19,1557.16 A16.6,16.6 0 1 1 1151.90,1557.00 Z" fill="#ffd700" fill-opacity="1" stroke="#000" stroke-width="1.4" stroke-linejoin="round"/><path d="M1323.9,1533.5 L1323.90,1516.90 A16.6,16.6 0 0 1 1340.37,1535.58 Z" fill="#ffd700" fill-opacity="1" stroke="#000" stroke-width="1.4" stroke-linejoin="round"/><path d="M1323.9,1533.5 L1340.37,1535.58 A16.6,16.6 0 1 1 1323.90,1516.90 Z" fill="#984ea3" fill-opacity="1" stroke="#000" stroke-width="1.4" stroke-linejoin="round"/><path d="M1502.5,1590.8 L1502.50,1574.20 A16.6,16.6 0 1 1 1491.92,1603.59 Z" fill="#ffd700" fill-opacity="1" stroke="#000" stroke-width="1.4" stroke-linejoin="round"/><path d="M1502.5,1590.8 L1491.92,1603.59 A16.6,16.6 0 0 1 1502.50,1574.20 Z" fill="#984ea3" fill-opacity="1" stroke="#000" stroke-width="1.4" stroke-linejoin="round"/><rect x="857.2" y="1431" width="675.7" height="311.1" fill="none" stroke="#2e2e2e" stroke-width="1.2"/><rect x="1532.9" y="1431" width="33.5" height="311.1" fill="#d9d9d9" stroke="#2e2e2e" stroke-width="1.07"/><text class="st" transform="translate(1543.5,1586.5) rotate(90)" text-anchor="middle">T15</text><path d="M856.7,1467.8 h-5.5" stroke="#2e2e2e" stroke-width="1.07" fill="none"/><text class="ax" x="846.4" y="1474.6" text-anchor="end">14</text><path d="M856.7,1525.8 h-5.5" stroke="#2e2e2e" stroke-width="1.07" fill="none"/><text class="ax" x="846.4" y="1532.6" text-anchor="end">12</text><path d="M856.7,1583.8 h-5.5" stroke="#2e2e2e" stroke-width="1.07" fill="none"/><text class="ax" x="846.4" y="1590.6" text-anchor="end">10</text><path d="M856.7,1641.8 h-5.5" stroke="#2e2e2e" stroke-width="1.07" fill="none"/><text class="ax" x="846.4" y="1648.6" text-anchor="end">8</text><rect x="857.2" y="1753.7" width="675.7" height="310.9" fill="#fff"/><path d="M857.2,1761.6 H1532.9 M857.2,1819.6 H1532.9 M857.2,1877.6 H1532.9 M857.2,1935.6 H1532.9 M857.2,1993.6 H1532.9 M857.2,2022.6 H1532.9 M961,1753.7 V2064.6 M1107.7,1753.7 V2064.6 M1254.3,1753.7 V2064.6 M1401.1,1753.7 V2064.6" stroke="#ebebeb" stroke-width="0.55" fill="none"/><path d="M857.2,1790.6 H1532.9 M857.2,1848.6 H1532.9 M857.2,1906.6 H1532.9 M857.2,1964.6 H1532.9 M887.6,1753.7 V2064.6 M1034.3,1753.7 V2064.6 M1181,1753.7 V2064.6 M1327.7,1753.7 V2064.6 M1474.4,1753.7 V2064.6" stroke="#ebebeb" stroke-width="1.07" fill="none"/><path d="M887.6,1841.9 L887.60,1825.30 A16.6,16.6 0 0 1 888.43,1825.32 Z" fill="#a0522d" fill-opacity="1" stroke="#000" stroke-width="1.4" stroke-linejoin="round"/><path d="M887.6,1841.9 L888.43,1825.32 A16.6,16.6 0 0 1 889.68,1825.43 Z" fill="#ff7f00" fill-opacity="1" stroke="#000" stroke-width="1.4" stroke-linejoin="round"/><path d="M887.6,1841.9 L889.68,1825.43 A16.6,16.6 0 0 1 904.13,1843.46 Z" fill="#ffd700" fill-opacity="1" stroke="#000" stroke-width="1.4" stroke-linejoin="round"/><path d="M887.6,1841.9 L904.13,1843.46 A16.6,16.6 0 1 1 887.60,1825.30 Z" fill="#984ea3" fill-opacity="1" stroke="#000" stroke-width="1.4" stroke-linejoin="round"/><path d="M887.6,1890.6 L887.60,1874.00 A16.6,16.6 0 0 1 898.18,1877.81 Z" fill="#ffd700" fill-opacity="1" stroke="#000" stroke-width="1.4" stroke-linejoin="round"/><path d="M887.6,1890.6 L898.18,1877.81 A16.6,16.6 0 1 1 887.60,1874.00 Z" fill="#984ea3" fill-opacity="1" stroke="#000" stroke-width="1.4" stroke-linejoin="round"/><path d="M916,1866.3 L916.00,1849.70 A16.6,16.6 0 0 1 932.31,1869.41 Z" fill="#ffd700" fill-opacity="1" stroke="#000" stroke-width="1.4" stroke-linejoin="round"/><path d="M916,1866.3 L932.31,1869.41 A16.6,16.6 0 1 1 916.00,1849.70 Z" fill="#984ea3" fill-opacity="1" stroke="#000" stroke-width="1.4" stroke-linejoin="round"/><path d="M1029.8,1882.6 L1029.80,1866.00 A16.6,16.6 0 0 1 1045.42,1876.98 Z" fill="#ffd700" fill-opacity="1" stroke="#000" stroke-width="1.4" stroke-linejoin="round"/><path d="M1029.8,1882.6 L1045.42,1876.98 A16.6,16.6 0 1 1 1029.80,1866.00 Z" fill="#984ea3" fill-opacity="1" stroke="#000" stroke-width="1.4" stroke-linejoin="round"/><path d="M1151.7,1873.8 L1151.70,1857.20 A16.6,16.6 0 0 1 1152.53,1857.22 Z" fill="#a0522d" fill-opacity="1" stroke="#000" stroke-width="1.4" stroke-linejoin="round"/><path d="M1151.7,1873.8 L1152.53,1857.22 A16.6,16.6 0 0 1 1154.81,1857.49 Z" fill="#ff7f00" fill-opacity="1" stroke="#000" stroke-width="1.4" stroke-linejoin="round"/><path d="M1151.7,1873.8 L1154.81,1857.49 A16.6,16.6 0 0 1 1160.59,1859.78 Z" fill="#ffd700" fill-opacity="1" stroke="#000" stroke-width="1.4" stroke-linejoin="round"/><path d="M1151.7,1873.8 L1160.59,1859.78 A16.6,16.6 0 1 1 1151.70,1857.20 Z" fill="#984ea3" fill-opacity="1" stroke="#000" stroke-width="1.4" stroke-linejoin="round"/><path d="M1430.1,1860.7 L1430.10,1844.10 A16.6,16.6 0 0 1 1433.21,1844.39 Z" fill="#ffd700" fill-opacity="1" stroke="#000" stroke-width="1.4" stroke-linejoin="round"/><path d="M1430.1,1860.7 L1433.21,1844.39 A16.6,16.6 0 1 1 1430.10,1844.10 Z" fill="#984ea3" fill-opacity="1" stroke="#000" stroke-width="1.4" stroke-linejoin="round"/><rect x="857.2" y="1753.7" width="675.7" height="310.9" fill="none" stroke="#2e2e2e" stroke-width="1.2"/><rect x="1532.9" y="1753.7" width="33.5" height="310.9" fill="#d9d9d9" stroke="#2e2e2e" stroke-width="1.07"/><text class="st" transform="translate(1543.5,1909.2) rotate(90)" text-anchor="middle">T18</text><path d="M856.7,1790.6 h-5.5" stroke="#2e2e2e" stroke-width="1.07" fill="none"/><text class="ax" x="846.4" y="1797.4" text-anchor="end">14</text><path d="M856.7,1848.6 h-5.5" stroke="#2e2e2e" stroke-width="1.07" fill="none"/><text class="ax" x="846.4" y="1855.4" text-anchor="end">12</text><path d="M856.7,1906.6 h-5.5" stroke="#2e2e2e" stroke-width="1.07" fill="none"/><text class="ax" x="846.4" y="1913.4" text-anchor="end">10</text><path d="M856.7,1964.6 h-5.5" stroke="#2e2e2e" stroke-width="1.07" fill="none"/><text class="ax" x="846.4" y="1971.4" text-anchor="end">8</text><path d="M887.6,2065.1 v5.5" stroke="#2e2e2e" stroke-width="1.07" fill="none"/><text class="ax" x="887.6" y="2088.4" text-anchor="middle">0</text><path d="M1034.3,2065.1 v5.5" stroke="#2e2e2e" stroke-width="1.07" fill="none"/><text class="ax" x="1034.3" y="2088.4" text-anchor="middle">200</text><path d="M1181,2065.1 v5.5" stroke="#2e2e2e" stroke-width="1.07" fill="none"/><text class="ax" x="1181" y="2088.4" text-anchor="middle">400</text><path d="M1327.7,2065.1 v5.5" stroke="#2e2e2e" stroke-width="1.07" fill="none"/><text class="ax" x="1327.7" y="2088.4" text-anchor="middle">600</text><path d="M1474.4,2065.1 v5.5" stroke="#2e2e2e" stroke-width="1.07" fill="none"/><text class="ax" x="1474.4" y="2088.4" text-anchor="middle">800</text><text class="axt" x="1195.1" y="2113" text-anchor="middle">Distance from swarm [m]</text><text class="axt" transform="translate(817.5,1747.8) rotate(-90)" text-anchor="middle">log(Euphausiid copies)</text><text class="tag" x="798.6" y="1450.5">F</text><text class="lt" x="1610.6" y="203.6">eDNA age</text><circle cx="1627.2" cy="233.6" r="4.1" fill="#3a9b8c"/><text class="ll" x="1655.3" y="240.5">recent</text><circle cx="1627.2" cy="267.6" r="4.1" fill="#ebebeb"/><text class="ll" x="1655.3" y="274.5">undetermined</text><circle cx="1627.2" cy="301.6" r="4.1" fill="#e32d22"/><text class="ll" x="1655.3" y="308.5">old</text><text class="lt" x="1610.6" y="380.4">Log(eDNA copy numbers)</text><circle cx="1627.2" cy="409.8" r="2.7" fill="#000"/><text class="ll" x="1655.3" y="416.7">3</text><circle cx="1627.2" cy="443.9" r="9" fill="#000"/><text class="ll" x="1655.3" y="450.8">5</text><circle cx="1627.2" cy="477.9" r="11.3" fill="#000"/><text class="ll" x="1655.3" y="484.8">7</text><circle cx="1627.2" cy="511.9" r="13.3" fill="#000"/><text class="ll" x="1655.3" y="518.9">9</text><text class="lt" x="1932.7" y="203.6">Depth (m)</text><rect x="1932.7" y="216.9" width="33.7" height="34.1" fill="#d9f2ff"/><rect x="1932.7" y="250.8" width="33.7" height="34.1" fill="#c6e6fa"/><rect x="1932.7" y="284.6" width="33.7" height="34.1" fill="#b0dbff"/><rect x="1932.7" y="318.5" width="33.7" height="34.1" fill="#5fadd6"/><rect x="1932.7" y="352.3" width="33.7" height="34.1" fill="#2b83b5"/><text class="ll" x="1977.4" y="223.9">0</text><text class="ll" x="1977.4" y="257.8">1000</text><text class="ll" x="1977.4" y="291.6">2000</text><text class="ll" x="1977.4" y="325.5">3000</text><text class="ll" x="1977.4" y="359.3">4000</text><text class="ll" x="1977.4" y="393.1">6000</text><text class="lt" x="1932.7" y="448.4">eDNA detection</text><path d="M1945.7,474.4 l7.8,7.8 M1945.7,482.2 l7.8,-7.8" stroke="#000" stroke-width="1.0" fill="none"/><text class="ll" x="1977.4" y="485">eDNA absent</text><circle cx="1949.6" cy="512" r="3.3" fill="#000"/><text class="ll" x="1977.4" y="519">eDNA present</text><text class="lt" x="1758.9" y="861.4">Krill species</text><rect x="1759.9" y="875.3" width="30.9" height="31.4" fill="#b37557" stroke="#000" stroke-width="1.9"/><text class="li" x="1804" y="897.9">E. crystallorophias</text><rect x="1759.9" y="909.5" width="30.9" height="31.4" fill="#ff9933" stroke="#000" stroke-width="1.9"/><text class="li" x="1804" y="932.1">E. frigida</text><rect x="1759.9" y="943.8" width="30.9" height="31.4" fill="#ffdf33" stroke="#000" stroke-width="1.9"/><text class="li" x="1804" y="966.4">E. superba</text><rect x="1759.9" y="978" width="30.9" height="31.4" fill="#e94849" stroke="#000" stroke-width="1.9"/><text class="li" x="1804" y="1000.6">T. gregaria</text><rect x="1759.9" y="1012.3" width="30.9" height="31.4" fill="#ad71b5" stroke="#000" stroke-width="1.9"/><text class="li" x="1804" y="1034.9">T. macrura</text><text class="lt" x="1758.9" y="1106">Depth (m)</text><rect x="1758.3" y="1118.9" width="33.7" height="34.2" fill="#d9f2ff"/><rect x="1758.3" y="1152.8" width="33.7" height="34.2" fill="#c6e6fa"/><rect x="1758.3" y="1186.7" width="33.7" height="34.2" fill="#b0dbff"/><rect x="1758.3" y="1220.6" width="33.7" height="34.2" fill="#5fadd6"/><rect x="1758.3" y="1254.5" width="33.7" height="34.2" fill="#2b83b5"/><text class="li" x="1804" y="1125.9">0</text><text class="li" x="1804" y="1159.8">1000</text><text class="li" x="1804" y="1193.7">2000</text><text class="li" x="1804" y="1227.6">3000</text><text class="li" x="1804" y="1261.5">4000</text><text class="li" x="1804" y="1295.4">6000</text><text class="lt" x="1758.9" y="1709.2">Krill species</text><rect x="1760.6" y="1724.4" width="29.1" height="29.1" fill="#a0522d" stroke="#000" stroke-width="0.8"/><text class="li" x="1803.8" y="1746">E. crystallorophias</text><rect x="1760.6" y="1758.5" width="29.1" height="29.1" fill="#ff7f00" stroke="#000" stroke-width="0.8"/><text class="li" x="1803.8" y="1780.1">E. frigida</text><rect x="1760.6" y="1792.6" width="29.1" height="29.1" fill="#ffd700" stroke="#000" stroke-width="0.8"/><text class="li" x="1803.8" y="1814.2">E. superba</text><rect x="1760.6" y="1826.7" width="29.1" height="29.1" fill="#984ea3" stroke="#000" stroke-width="0.8"/><text class="li" x="1803.8" y="1848.3">T. macrura</text>
</svg>
</body>
</html>
